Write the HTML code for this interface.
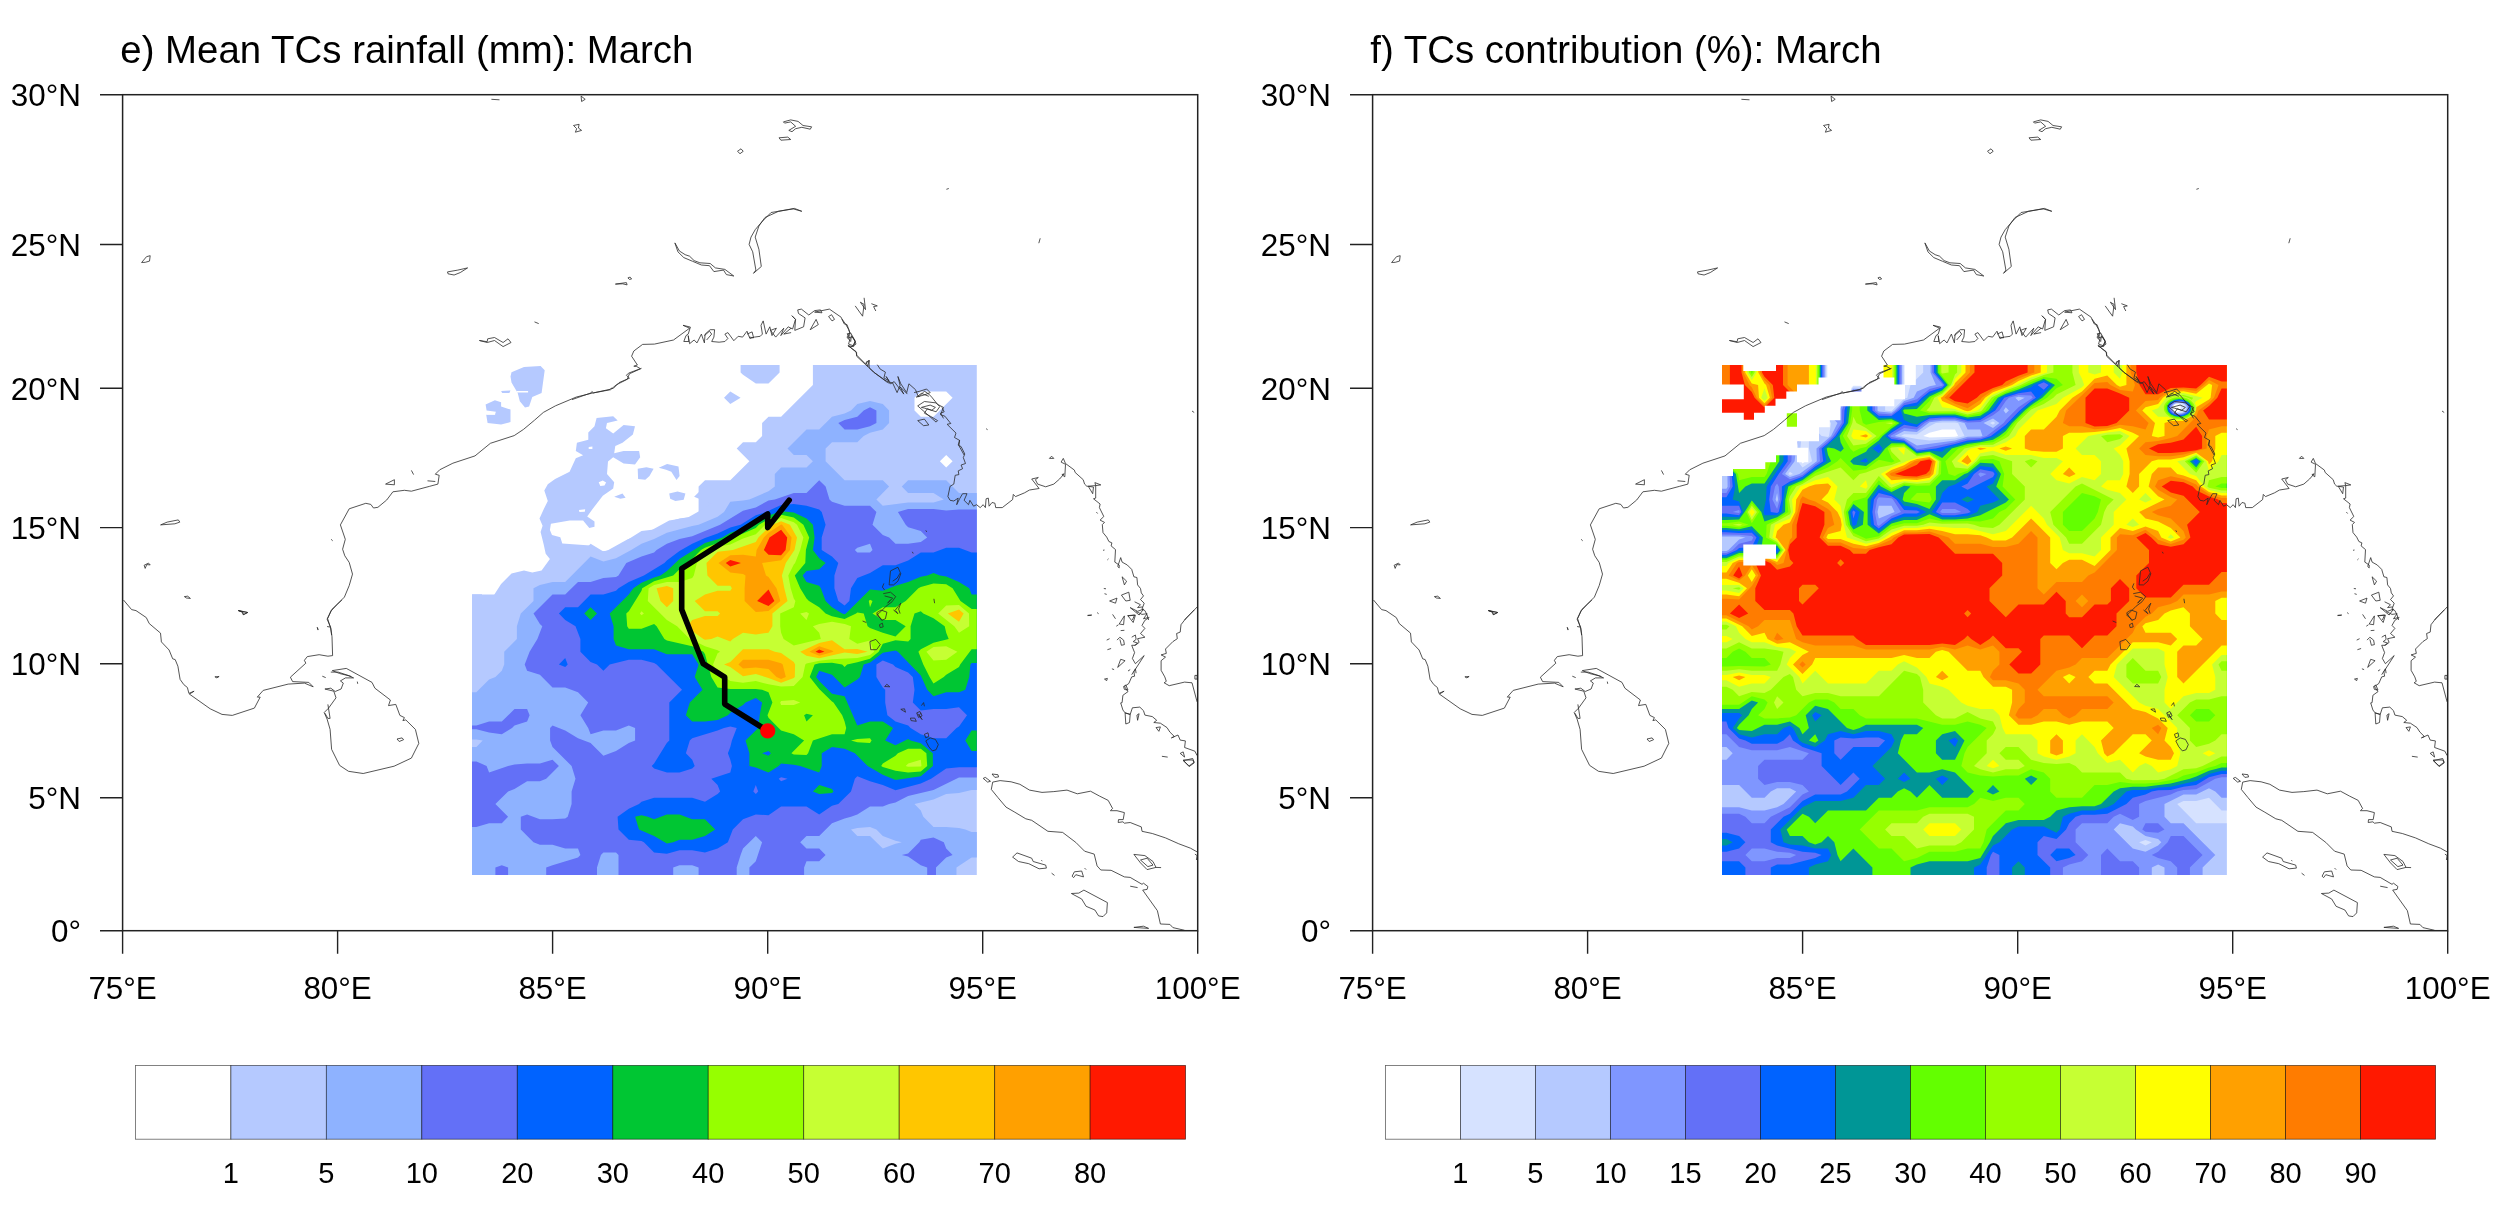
<!DOCTYPE html>
<html lang="en"><head><meta charset="utf-8"><title>TCs rainfall and contribution: March</title>
<style>
html,body{margin:0;padding:0;background:#fff;}
body{width:2500px;height:1224px;overflow:hidden;}
svg{display:block;}
text{font-family:"Liberation Sans",sans-serif;fill:#000;filter:url(#gs);}
.ttl{font-size:38.4px;}
.ax{font-size:31.4px;}
.cb{font-size:29px;}
.coast{fill:none;stroke:#2a2a2a;stroke-width:0.8;stroke-linejoin:round;}
</style></head><body>
<svg width="2500" height="1224" viewBox="0 0 2500 1224">
<rect width="2500" height="1224" fill="#fff"/>
<defs>
<filter id="gs" x="-5%" y="-20%" width="110%" height="140%"><feOffset dx="0" dy="0"/></filter>
<clipPath id="fr"><rect x="122.6" y="94.7" width="1075.1" height="836"/></clipPath>

<g id="coast">
<path class="coast" d="M641.5 368.3L629.4 373.8L627.2 379.3L616.2 384.9L610.6 389.7L591.9 393.2L576.4 397L555.5 405.8L543.4 412.4L534.5 420.2L523.5 429.4L514.2 435.6L490.4 443.3L475 455.9L452.9 463.2L439.7 469.8L435.3 474.2L439.2 475.3L437.9 484.1L429.7 486.3L411.4 491.2L404.4 490.3L392.9 491.8L386.7 500L377.9 507.3L373.5 508L370.8 504.4L365.8 503.3L349.2 508.8L340.4 524.9L345.3 539.3L342.6 549.2L344.8 555.8L349.2 562.4L352.5 574.1L349.2 585.6L344.4 597.1L337.1 604.4L331.1 611L327.6 618.7L330.5 627.5L331.6 635M160.6 524.9L167.2 522.1L178.3 519.9L179.8 522.1L174.9 523.8ZM144.1 565.3L148.5 563.1L150.2 564.9L146.7 564.6L145.2 568.4ZM184.4 596.6L187.7 596.2L190.4 598.4L186.4 598ZM238.5 610.5L247.7 612.5L243.3 614.7L242.2 612.1ZM385.6 484.1L394.4 479.7L394.4 484.8ZM411.4 470.4L413.6 474.6M427.5 480.8L435.3 481.5M331.1 539.3L332.7 540.8M317.2 627.5L318.3 629.7M842 319.1L845.7 324.3L848.6 329.4L850.1 333.8L847.9 338.2L852.3 336.8L854.5 339.7L856 344.1L850.8 347.1L847.9 345.6L856 351.5L856.7 355.1L865.5 364L869.2 360.3L867.7 366.2L873.6 372.1L886.1 380.9L892.7 383.1L897.1 392.6L900.1 385.3L897.9 376.5L900.8 383.8L906.7 392.6L908.9 383.8L915.5 389.7L918.5 397.1L924.4 391.2L928.8 394.1L931.7 397.1L937.6 404.4L943.5 407.4L940.5 414.7L944.9 416.2L950.8 423.5L947.1 424.3L956 433.1L954.5 437.5L959.6 440.4L958.9 445.6L964.1 455M877.3 364.7L880.2 369.1L885.4 372.1L883.9 377.9L889.1 380.9L886.1 376.5L890.5 383.8L894.2 381.6L903.8 394.1L900.1 386.8L907.4 394.1M914.1 392.6L919.9 391.2L926.6 389L930.2 392.6L924.4 394.9L916.3 397.1L921.4 393.4L928.8 396.3M917.7 405.9L924.4 401.5L936.1 402.9L939.8 406.6L936.1 411.8L927.3 408.8L924.4 413.2L930.2 416.2L937.6 420.6L936.1 422.1ZM921.4 407.4L930.2 405.1L935.4 407.4L931.7 410.3L924.4 408.1ZM917.7 420.6L924.4 419.1L928.8 425L923.6 425.7ZM942 407.4L944.2 411.8L940.5 413.2L943.5 418.4M855.2 305.9L862.6 316.2L864.1 304.4L860.4 302.2L865.5 309.6L864.1 297.8M871.4 303.7L877.3 305.9L873.6 306.6L875.8 311M847.1 333.8L850.8 333.1L855.2 341.2L853 345.6L848.6 344.1L850.1 338.2ZM986.1 428.7L987.6 429.7M1192 411L1194.2 412.5M959.6 440L958.2 445.1L961.1 446.6L964.8 454L963.3 457.6L965.5 463.5L961.1 465L962.6 468.7L958.2 470.9L958.9 474.6L955.2 475.3L953.8 484.1L950.1 486.3L947.9 496.6L950.1 500.3L953.8 501L958.2 498.1L956.7 504.7L959.6 498.8L962.6 493.7L967 493.7L964.1 500.3L968.5 504.7L969.9 500.3L973.6 506.2L976.6 504.7L980.2 507.6L983.2 504.7L985.4 507.6L986.1 498.8L988.3 498.1L989.1 506.2L992 502.5L994.9 503.2L995.7 507.6L1002.3 507.6L1012.6 499.6L1013.3 494.4L1015.5 496.6L1024.4 492.9L1029.5 490L1039.1 488.5L1031.7 479L1038.3 477.5L1035.4 479.7L1037.6 484.1L1045.7 486.8L1053.8 484.1L1059.6 479L1064.1 473.8L1061.9 474.6L1064.8 476.8L1065.5 464.3L1061.1 462.1L1063.3 458.4L1065.5 463.5L1074.4 470.1L1075.1 472.4L1083.2 479.7L1084.6 484.1L1086.9 486.3L1095.7 485.6L1094.9 482.6L1100.8 484.9L1095.7 485.6L1095.7 498.1L1093.5 498.8L1100.1 504L1099.4 507.6L1103.8 516.5L1100.1 520.1L1104.5 522.4L1102.3 524.6L1103 532.6L1106.7 537.1L1108.9 541.5L1111.9 542.9L1111.1 545.9L1115.5 549.6L1114.8 562.1L1119.2 565L1119.2 567.9L1117.7 566.5L1120.7 557.6L1122.1 562.1L1127.3 565L1131.7 569.4L1133.9 576.8L1136.9 577.5L1137.6 584.9L1140.5 588.5L1141.3 592.9L1143.5 595.9L1140.5 599.6L1144.2 603.2L1142 609.1L1144.9 610.6L1147.1 615L1148.6 620M1049.4 458.4L1051.6 456.2L1053.8 458.4ZM1088.3 486.3L1093.5 487.1L1092.7 493.7ZM1122.1 576.8L1126.6 581.2L1124.4 584.9ZM1109.6 601L1117 598.1L1115.5 603.2ZM1121.4 595.1L1128.8 592.2L1130.2 600.3L1125.8 601ZM1130.2 607.6L1137.6 611.3L1143.5 609.1L1139.1 615ZM1127.3 615.7L1134.6 615L1132.4 620M1134.6 601.8L1140.5 604.7L1137.6 607.6L1142.7 606.9M1103.8 588.5L1106 588.8M1104.5 593.7L1106.7 594.4M1087.6 615.3L1092 615M1103 550.3L1104.5 550M1096.4 512.1L1097.6 513.5M1107.4 559.9L1108.5 558.8M1184.6 620L1197.9 606.2M890.5 570.9L897.9 567.2L900.8 573.8L897.9 581.2L893.5 584.9L889.1 584.9ZM892.7 581.2L897.1 578.2L900.1 573.1M883.9 583.4L882.4 587.1L884.6 590M883.2 593.7L890.5 592.2L895.7 596.6L892 601.8L886.1 606.2L878.8 613.5L876.6 615L882.4 620M884.6 595.9L892.7 598.1L887.6 603.2L890.5 599.6M894.9 610.6L900.8 603.2L898.6 609.1L900.1 613.5M912.3 551.8L913.2 553.5M925.8 530.4L926.7 531.9M933.9 598.8L934.6 603.2M1149.4 617.4L1144.9 620.3L1142 625.4L1144.9 628.4L1140.5 633.5L1144.9 637.2L1137.6 638.7L1139.1 642.4L1135.4 645.3L1131.7 645.3L1134.6 652.6L1132.4 658.5L1135.4 663.7L1144.2 655.6L1136.1 668.1L1133.9 671.8L1134.6 676.2L1131.7 676.9L1128.8 683.5L1124.4 686.5L1128 691.6L1122.9 695.3L1122.1 702.6L1120.7 702.9L1122.9 710L1125.1 712.9L1130.2 714.4L1132.4 707.8L1139.8 707.1L1143.5 710.7L1144.9 715.1L1152.3 716.6L1156.7 720.3L1153.8 722.5L1160.4 723.2L1167 727.6L1169.9 732.1L1174.4 736.5L1171.4 737.9L1178 735L1180.2 740.1L1185.4 740.9L1184.6 747.5L1194.9 751.2L1197.1 755.6M1125.1 712.9L1130.2 714.4L1129.5 722.5L1125.8 724ZM1136.9 715.1L1139.1 713.7L1137.6 720.3ZM1156 727.6L1160.4 726.9L1158.9 731.3ZM1180.2 753.4L1183.2 751.9L1184.6 757.1ZM1183.2 760.7L1192.7 758.5L1194.2 762.2L1189.1 765.9ZM1161.9 756.3L1167.7 757.1M1194.2 610L1186.1 618.1L1181 624.7L1180.2 632.1L1176.6 633.5L1177.3 638.7L1172.9 641.6L1165.5 649L1166.3 653.4L1161.1 654.9L1165.5 657.1L1161.1 660.7L1161.1 670.3L1164.8 676.9L1166.3 681.3L1164.1 682.8L1169.2 685.7L1184.6 682.1L1192 682.8L1197.1 701.9M1194.9 675.4L1197.1 675.4L1197.1 679.1L1194.9 679.1ZM1119.2 624L1124.4 615.9L1123.6 624.7ZM1128 615.9L1135.4 615.1L1133.2 622.5ZM1117 640.1L1119.9 637.2L1123.6 640.1L1124.4 644.6L1121.4 645.3L1119.9 639.4M1117.7 667.4L1120.7 659.3L1125.1 660.7ZM1112.6 614.4L1115.5 618.8M1104.5 679.1L1107.4 678.4L1106.7 680.6ZM1131.7 637.2L1135.4 635L1136.1 639.4L1133.2 641.6L1137.6 643.1L1134.6 645.3M1123.6 686.5L1125.8 685L1128 690.1L1124.4 689.4ZM1131.7 674.7L1135.4 668.8L1136.1 673.2M1106.7 640.1L1109.6 638.7M1107.4 649.7L1111.1 648.5M1111.9 668.8L1114.1 669.6M1128 671L1130.2 669.6M1116.3 626.2L1118.5 624.7M1120.7 630.6L1124.4 630.3M1136.1 611.5L1142 614.4L1147.1 613.7L1143.5 618.8L1148.6 617.4M1087.6 615.6L1091.3 615.3M1097.1 612.6L1098.6 613.7M869.9 641.6L875.8 639.4L880.2 644.6L876.6 649.7L870.7 649.7ZM884.6 686.5L886.9 684.3L889.8 686.8ZM900.8 709.3L904.5 708.8L905.5 712.2ZM910.4 718.1L914.8 718.1L916.3 721.3L911.1 720.6ZM916.7 712.9L919.9 711.5L922.1 715.9L918.5 717.4ZM917.7 713.7L922.1 719.6L919.2 715.1L921.4 712.9M921.4 705.6L923.6 702.6L924.4 706.3M924.4 734.3L928 732.8L928.8 736.5L925.8 737.9ZM925.8 740.9L930.2 737.9L935.4 739.4L938.3 744.6L936.1 749.7L932.4 750.9L928.8 746.8ZM876.6 612.9L881 610L886.9 612.2L885.4 618.8L881.7 620.3ZM879.5 624.7L882.4 623.2L883.2 626.9L880.2 627.6ZM862.6 621L866.3 622.5M893.5 610L897.9 613.7L895.7 610.7M983.2 778.4L985.4 777.4L990.5 781.3L987.6 782.1ZM992 774L997.9 774.7L998.6 776.9L994.9 777.4ZM1197.1 851.9L1190.5 848.2L1178.8 843.8L1165.5 837.9L1152.3 833.5L1142 831.3L1141.3 826.9L1130.2 822.5L1124.4 823.2L1122.9 821.8L1118.2 822.5L1118.5 819.6L1123.2 819.6L1124.4 812.6L1117 810.7L1110.4 810.7L1112.6 808.5L1108.2 800.4L1099.4 796L1090.5 791.2L1077.3 793.8L1067 790.1L1053.8 791.6L1042 792.4L1029.5 790.1L1019.9 784.3L1011.1 781.8L1000.1 780.6L992.7 782.1L991.3 789.4L997.9 797.5L1006 807.1L1014.8 812.2L1025.8 818.8L1031.7 820.3L1047.9 831.3L1062.6 832.4L1075.8 842.4L1084.6 851.2L1094.2 854.1L1097.1 865.9L1100.8 870L1111.1 870.3L1124.4 876.9L1130.2 877.4L1142 884.3L1143.5 883.2L1147.9 886.5L1147.1 889.4L1142.7 890.1L1157.4 910.7L1160.4 924L1169.9 924.4L1172.9 927.6L1184.6 930.3M1012.6 857.1L1017 852.9L1031.7 858.2L1033.2 861.5L1045.7 865.1L1046.4 868.1L1039.1 868.8L1028.8 863.7L1018.5 861.5ZM1072.1 876.2L1074.4 871.8L1081.7 871L1083.5 876.9L1075.8 874.7L1073.6 877.6ZM1071.4 893.5L1078.8 893.1L1083.9 890.1L1107.4 902.6L1106.7 912.9L1103 916.6L1098.6 915.9L1094.9 910L1086.1 906.3L1081.7 899ZM1133.9 927.4L1143.5 926.2L1148.6 928.4ZM1133.9 854.4L1144.9 855.6L1153 861.5L1156 867.4L1147.1 869.6L1140.5 862.9ZM1140.5 860L1147.1 858.2L1153 865.1L1147.9 866.6ZM1156 867.4L1161.1 867.6M1130.2 886.2L1137.6 887.6M1051.6 873.2L1054.5 875.4M1084.6 868.1L1086.1 869.6M1041.3 860.4L1042.3 860.9M1183.2 760L1192.7 760L1194.2 762.9L1189.1 766.6ZM1194.9 854.1L1197.1 855.6L1196.4 860M123.5 600L131.6 609.6L136 610.6L146.3 617.6L149.2 623.5L160.5 633.1L161.4 641.9L169.1 650L172.7 658.8L175.2 659.6L177.9 666.2L180.1 679.4L183.8 684.6L187.4 687.5L188.9 693.4L194.1 691.2L189.4 694.1L210.2 708.8L222 714.4L232.3 715.4L254.4 708.1L260.2 697.1L257.3 697.1L263.2 690.4L288.2 684.1L304.4 683.1L313.2 686.8L308.8 682.4L292.6 681.6L290.4 677.2L305.8 663.2L304.4 660.3L307.3 656.6L319.1 654.7L327.9 656.2L332.6 655.6L332 636.8L330.8 627.9L327.1 619.1L331.6 609.6L341.9 600M332.3 670.6L346.3 668.4L372 682.4L374.9 688.2L390.4 700L388.5 705.6L395.8 704.4L399.9 715.4L404.4 717.6L402.9 720.6L405.8 719.9L415.4 729.4L418.8 743.4L411.4 758.1L394.1 766.2L363.2 773.5L348.5 771.3L339.6 765.4L331.6 749.3L330.1 729.4L327.1 719.1L324.2 712.5L328.6 708.1L336 697.8L333.8 691.2L324.9 689L330.8 688.2L335.2 691.5L341.1 689L343.3 683.1L340.4 680.9L345.5 677.9L353.6 677.9L348.5 675.7L339.6 673.5ZM330.8 672.1L338.2 672.1L351.4 676.5M324.9 713.2L327.9 718.4L330.1 718.4L327.9 704.4M397 739L402.1 737.9L403.6 739.7L399.2 741.5ZM238.2 610.6L247.7 612.5L243.3 614.7L242.9 612.1ZM214.9 676.8L219.1 676.5L216.9 677.9ZM317.3 627.2L317.9 630.1M322.3 676.2L325.7 677.6M327.1 626.5L330.5 627.2M357.3 681.6L357.7 683.8M572 399.6L591.1 392.9L591.9 391.5L593.3 392.9L610.2 389.3L611 388.2L613.2 388.5L619.1 382.6L629.4 378.2L626.4 375.3L628.6 373.1L640.4 368.7L636.7 366.5L633.8 366.2L637.4 365L631.6 356.2L633.8 351L642.6 344.4L654.4 344.1L673.5 340L689.6 328.2L683 325.3L690.4 327.1L688.2 334.1L686 335.6L683.8 341.5L688.9 341.5L688.2 335.6L689.6 343.7L694.1 340L697 342.9L701.4 334.1L704.4 342.9L705.1 334.1L710.2 329.7L714.6 329.7L713.9 337.1L711.7 341.5L719.1 342.2L724.9 341.5L727.9 338.5L724.9 334.1L727.9 332.6L733.8 340.7L738.2 336.3L742.6 337.1L747 331.2L749.9 338.5L754.4 337.1L760.2 336.3L762.4 334.1L761 325.3L763.2 320.9L766.1 334.1L769.8 326.8L772 335.6L776.4 328.2L770.5 330.4L775.7 337.1L783.8 328.2L780.8 335.6L788.2 326.8L792.6 329L795.5 319.4L791.9 315.7L795.5 319.4L794.8 330.4L803.6 326.8L805.1 317.9L798.5 313.5L797.7 309.9L801.4 309.1L808.8 315L814.6 310.6L820.5 309.9L822 312.8L814.6 312.1L829.4 309.1L841.1 317.2L844.1 323.8L847 324.6L849.9 332.6L847 337.1L850.7 341.5L851.4 335.6L855.1 341.5L853.6 346.6L848.5 345.9L856.6 352.5L856.6 356.2L867.6 366.5L866.1 362.1L869.1 360.6L869.1 367.9L874.9 373.1L886.7 381.9L889.6 383.4M810.2 329.7L816.1 319.4L818.3 324.6ZM828.6 316.5L831.6 314.7L834.5 319.4L832 320.9ZM791.1 328.2L783.8 334.1L791.1 332.6M704.4 335.6L709.5 331.2L711.7 334.1L706.6 340M747 334.1L752.1 331.9L753.6 337.8L749.2 337.1M674.9 242.9L679.4 251L685.2 254.7L689.6 256.2L694.1 260.6L699.9 262.8L710.2 263.5L715.4 267.9L724.9 269.4L733.8 276L726.4 274.6L723.5 270.1L713.9 271.6L709.5 265.7L701.4 265L692.6 261.3L683.8 257.6L677.9 251.8ZM615.4 284.1L626.4 282.6L627.1 284.9L622.7 283.8ZM627.9 277.9L630.1 277.1L631.6 279L629.4 279.4ZM753.5 273.3L761.3 266.5L758.9 249.3L755.2 237.1L758.9 226L765 217.5L778.5 211.3L794.4 208.4L801.8 211.3L793.2 208.9L771.1 212.5L762.5 221.1L755.2 229.7L751 237.1L749.1 244.4L752.7 251.8L755.9 270.1ZM783.4 121.9L790.7 119.9L798.1 121.4L803 125.5L811.6 126.8L810.3 129.2L801.8 127.3L795.6 128.7L792 131.7L788.8 130.4L795.6 126.3L790.7 121.9L784.6 123.1ZM779 137.8L787.8 137.1L790.7 139.5L780.9 140.2ZM737.5 151.3L741 148.8L743.2 151.3L740 153.7ZM946.4 189.3L948.8 188.5M1038.8 243.2L1040.2 238.3M141.6 262.5L146.5 256.7L150.2 255.7L149.5 261.1L145.3 262.3ZM447.5 271.9L457.8 270.1L467.6 267.9L460.2 272.6L454.1 275L448 273.8ZM479.4 340.5L487.2 341.7L487.7 338.8L494.5 337.5L503.1 342.5L508 338.8L511 342.5L503.1 346.6L494.5 340.5L487.2 342.5ZM534.5 321.9L538.7 323.6M573.5 125.5L579.1 124.3L578.4 128L581.6 130.4L575.4 132.2L576.7 128.7ZM581.1 96.1L585.2 99.3L581.6 101.5ZM491.4 99.3L499.5 99.8"/>
</g>
</defs>
<g id="panel-e">
<text x="120.3" y="62.6" class="ttl">e) Mean TCs rainfall (mm): March</text>
<g clip-path="url(#fr)"><clipPath id="dl"><rect x="472" y="365.1" width="504.8" height="509.8"/></clipPath>
<g clip-path="url(#dl)" fill-rule="evenodd" shape-rendering="geometricPrecision">
<path fill="#b5c9ff" d="M740.6 346.9L779.6 346.9L779.6 372.4L768.5 383.5L755.8 383.5L743 374.8L740.6 372.4ZM812.9 346.9L997 346.9L997 893L450.9 893L450.9 594.6L501.8 594.6L514.5 581.9L527.1 581.9L539.9 578.7L546.2 575.5L552.5 569.2L565.2 569.2L590.6 543.8L603.4 551.4L609.7 550.1L616 547.7L628.8 539L641.5 531.1L654.1 529.4L664.4 524.8L666.8 522.3L679.5 518.4L692.2 516.7L698.6 512L698.6 486.6L705 480.3L730.3 480.3L749.4 461.2L736.7 448.6L743 442.2L755.8 442.2L762.1 435.9L762.1 423.1L768.5 416.8L781.1 416.8L812.9 385.1ZM920.8 391.4L914.5 397.8L914.5 410.4L920.8 416.8L933.5 416.8L952.6 397.8L946.2 391.4ZM946.2 454.9L939.9 461.2L946.2 467.6L952.6 461.2ZM724 397.8L730.3 391.4L740.6 397.8L730.3 404.1Z"/>
<path fill="#b5c9ff" fill-rule="nonzero" d="M511.5 372.2L524 367L540.6 366L544.7 370.2L541.6 393L532.3 397.1L529.1 406.5L525 407.5L519.8 401.3L517.7 393L511.5 382.6L510.5 376.4ZM501.1 390.9L510.5 390.5L509.4 393L502.2 393ZM485.6 404.4L494.9 400.2L501.1 402.3L501.1 406.5L510.5 409.6L510.5 422L501.1 424.5L487.6 423.1L486.2 414.8L494.9 414.8L495.9 411.7L486.6 410.6ZM472.1 620L472.1 594.3L482 594.3L482 599.5L484.9 599.5L485.6 595.3L493.9 595.3L501.1 583.9L511.5 573.5L524 570.4L532.3 572.5L541.6 570.4L549.9 559L545.7 553.8L543.7 544.5L540.6 532L542.6 525.8L539.5 518.5L543.7 509.2L547.8 500.9L544.3 490.5L547.8 484.3L555.1 479.1L569.6 471.8L575.8 458.3L583.1 455.2L575.8 451.1L576.9 442.8L588.3 439.7L588.3 432.4L594.5 426.2L596.6 417.9L613.2 416.2L617.7 420.4L607 423.1L605.9 428.3L613.2 433.4L623.6 425.1L635 426.2L632.9 434.5L622.5 442.8L615.3 445.9L614.2 453.2L623.6 451.1L639.1 451.1L640.2 457.3L635 464.6L623.6 463.5L613.2 457.3L608 461.5L607 473.9L614.2 482.2L613.2 488.4L602.8 495.7L592.4 509.2L587.2 516.4L594.5 521.6L594.5 526.8L589.3 527.9L583.1 520.6L569.6 520.6L550.9 523.7L549.9 529.9L552 535.1L560.3 537.2L562.3 543.4L590.4 545.5L596.6 551.7L607 550.7L627.7 539.3L646.4 533L669.2 520.6L687.9 517.5L711.8 504L694.1 496.7L704.5 486.4L724 483.2L724 529.9L708.6 535.1L687.9 542.4L669.2 545.5L656.8 553.8L642.2 562.1L627.7 566.2L615.3 573.5L598.7 572.5L586.2 576.6L569.6 592.2L561.3 595.3L553 600.5L538.5 603.6L529.1 614L526 620ZM637.7 468.7L646.4 467.3L653.6 468.7L649.5 476L645.3 479.7L638.1 479.1ZM658.8 467.7L667.1 463.9L678.5 466.6L679.6 476L676.5 480.1L671.3 471.8L666.1 469.8ZM669.2 493.6L677.5 491.5L685.4 493.6L683.7 499.8L675.4 500.9L670.2 498.8ZM614.2 496.7L622.5 493.6L625.6 497.8L620.4 498.8Z"/>
<path fill="#fff" fill-rule="nonzero" d="M598.7 482.2L602.8 480.5L606.1 482.6L604.5 485.5L600.3 485.9ZM578.9 510L585.2 509.2L584.8 511.7L579.4 512.1ZM588.7 446.9L592.4 446.5L592.4 449L588.7 449ZM516.7 390.9L528.1 390.9L528.1 392.6L516.7 392.6ZM486.6 411.7L494.5 412.1L495.3 414.6L486.6 414.4Z"/>
<path fill="#8eb2ff" d="M851 410.4L857.3 404.1L870 400.9L882.8 404.1L889.1 410.4L889.1 423.1L882.8 429.5L870 432.7L863.7 435.9L857.3 442.2L832 442.2L825.6 448.6L825.6 461.2L844.6 480.3L882.8 480.3L889.1 486.6L876.4 499.4L882.8 505.7L908.1 502.5L933.5 502.5L943.8 499.4L933.5 493L908.1 493L901.8 486.6L908.1 480.3L946.2 480.3L959 493L997 493L997 789.9L971.6 789.9L959 793L946.2 793.9L933.5 799.5L914.5 804.1L920.8 810.5L923.3 816.8L933.5 827.1L946.2 827.1L959 828L965.3 829.5L971.6 832L997 832L997 857.4L971.6 857.4L956.5 867.6L956.5 893L450.9 893L450.9 747L476.4 747L482.7 740.6L476.4 739.4L450.9 739.4L450.9 692.3L476.3 692.3L489.1 679.6L495.4 677.1L501.8 670.8L504.2 664.5L504.2 651.8L516.9 639L516.9 626.3L520.8 613.6L533.5 601L533.5 588.2L539.9 585.1L552.5 581.9L565.2 581.9L590.6 556.5L603.4 561.6L616 558.2L631.2 550.1L641.5 543.8L654.1 539L666.9 532.8L692.2 526L698.6 524.8L717.6 516.7L724 512L730.3 501.8L743.1 500.6L749.4 499.4L768.5 491.3L774.8 486.6L774.8 473.9L781.1 467.6L806.5 467.6L812.9 461.2L806.5 454.9L793.8 454.9L787.5 448.6L806.5 429.5L819.2 429.5L832 416.8L844.6 413.6ZM857.3 828L851 829.5L857.3 835.9L870 835.9L882.8 848.6L895.5 843.8L901.8 842.2L895.5 840.7L882.8 835.9L876.4 829.5L870 827.1Z"/>
<path fill="#6370f7" d="M863.7 410.4L870 407.3L876.4 410.4L876.4 423.1L870 426.3L857.3 429.5L844.6 429.5L838.3 423.1L844.6 420L857.3 416.8ZM819.2 480.3L825.6 486.6L829.5 499.4L832 501.8L844.6 505.7L870 505.7L876.4 512L872.5 524.8L882.8 535L889.1 537.5L895.5 543.8L908.1 543.8L920.8 542.1L927.2 537.5L920.8 531.1L908.2 527.2L905.7 524.8L897.9 512L908.1 508.9L933.5 508.9L946.2 510.5L959 509.6L997 509.6L997 777.5L959 777.5L933.5 789.9L908.1 796.1L895.5 802.6L889.1 804.1L882.8 806.6L870 806.6L857.3 814.4L851 816.8L844.6 818.4L832 823.2L819.2 835.9L806.5 835.9L800.2 842.2L806.5 848.6L819.2 848.6L825.6 855L819.2 861.3L806.5 861.3L804.1 867.6L804.1 893L749.4 893L749.4 867.6L755.8 861.3L762.1 842.2L755.8 835.9L743 848.6L740.6 855L736.7 867.6L736.7 893L698.6 893L698.6 867.6L692.2 865.2L679.5 865.2L673.2 867.6L673.2 893L618.5 893L618.5 855L616 852.5L603.4 852.5L600.9 855L597 867.6L597 893L546.2 893L546.2 867.6L552.5 865.2L578 857.4L580.4 855L578 848.6L565.2 848.6L552.5 844.7L539.9 844.7L533.5 842.2L520.8 829.5L520.8 816.8L527.1 814.4L539.9 819.3L552.5 819.3L565.2 818.4L567.7 816.8L571.6 804.1L571.6 791.5L575.5 778.8L571.6 766L552.5 747L550.1 740.6L550.1 728L552.5 725.5L565.2 730.4L578 738.2L590.6 743.1L603.4 755.8L616 750.9L628.8 743.1L635.1 740.6L635.1 728L628.8 725.5L616 730.4L603.4 730.4L590.6 734.3L588.2 728L580.4 715.2L588.2 702.5L578 692.3L565.2 687.4L552.5 687.4L539.9 674.7L527.1 670.8L524.7 664.5L529.6 651.8L537.4 639L542.3 626.3L539.9 623.9L533.5 613.6L552.5 594.6L565.2 594.6L578 581.9L590.6 581.9L603.4 578L616 577.1L618.5 575.5L626.3 562.9L641.5 556.5L654.1 552.6L656.6 550.1L666.9 543.8L679.5 539L692.2 536.2L720.1 524.8L743 510.8L755.8 507.4L768.5 500.6L774.8 499.4L793.8 493L806.5 493ZM857.3 547.7L854.9 550.1L857.3 552.6L870 552.6L872.5 550.1L870 543.8ZM514.5 708.9L527.1 708.9L529.6 715.2L527.1 721.6L514.5 725.5L512 728L501.8 734.3L489.1 732.6L476.4 729.2L451 729.2L450.9 725.5L476.4 725.5L489.1 721.6L501.8 721.6ZM450.9 761.4L476.4 761.4L486.6 766L489.1 772.4L508.1 766L514.5 764.5L527.1 763.6L539.9 763.6L552.5 759.7L558.9 766L546.2 778.8L539.9 781.2L527.1 781.2L514.5 789L508.1 791.5L495.4 804.1L508.1 816.8L501.8 823.2L489.1 823.2L476.3 827.1L450.9 827.1ZM919.3 842.2L920.8 839.8L933.5 837.6L943.8 842.2L946.2 848.6L952.6 855L946.2 857.4L936 867.6L936 893L927.2 893L927.2 867.6L920.8 865.2L908.1 856.5L901.8 855L908.1 853.4ZM495.4 867.6L501.8 865.2L508.1 867.6L508.1 893L495.4 893Z"/>
<path fill="#0063ff" d="M766 512L781.1 504.9L793.8 504L806.5 505.7L819.2 509.6L821.7 512L825.6 524.8L821.7 537.5L821.7 550.1L832 556.5L838.3 562.9L834.4 575.5L834.4 588.2L838.3 601L844.6 605.6L849.3 601L851 588.2L857.3 578L870 573.1L882.8 565.3L895.5 565.3L908.2 560.4L920.8 552.6L933.5 552.6L946.2 547.7L959 547.7L971.6 552.6L997 552.6L997 767.3L959 767.3L946.2 768.5L931.1 778.8L920.8 783.4L895.5 790.2L882.8 785.1L870 781.2L857.3 776.3L854.9 778.8L851 791.5L838.3 804.1L832 805.7L819.2 814.4L806.5 806.6L781.1 806.6L768.5 815.3L755.8 814.4L743 819.3L732.8 829.5L727.9 842.2L717.6 848.6L705 852.5L692.2 850.3L679.5 850.3L666.9 853.7L654.1 852.5L643.9 842.2L641.5 841L628.8 839.8L618.5 829.5L617.6 816.8L628.8 808.8L639 804.1L641.5 801.7L654.1 797.8L692.2 797.8L705 801.7L717.6 793.9L720.1 791.5L717.6 785.1L711.3 778.8L730.3 772.4L731.9 766L730.3 759.7L727.9 753.3L730.3 747L731.9 740.6L736.7 728L730.3 726.4L724 728L717.6 730.4L692.2 738.2L689.8 740.6L685.9 753.3L692.2 759.7L694.7 766L692.2 768.5L679.5 772.4L666.9 772.4L654.1 768.5L651.7 766L654.1 763.6L666.8 743.1L669.3 740.6L669.3 702.5L682 689.8L656.6 664.5L654.1 662.9L641.5 659.8L628.8 659.8L609.7 664.5L603.4 670.8L597 664.5L590.6 662L580.4 651.8L580.4 639L575.5 626.3L565.2 620L558.9 613.6L565.2 607.3L578 607.3L590.6 594.6L603.4 594.6L616 590.7L618.5 588.2L628.8 581.9L643.9 575.5L664.4 562.9L666.8 560.4L679.5 551.1L692.2 543.8L705 538L717.6 533.5L730.3 527.4L740.6 524.8L755.8 515.2ZM781.1 777.2L778.7 778.8L781.1 781.2L787.5 778.8ZM882.8 660.5L876.4 664.5L876.4 677.1L882.8 687.4L885.2 689.8L885.2 702.5L887.4 715.2L895.5 721.6L908.2 725.5L910.6 728L920.8 734.3L933.5 738.2L946.2 738.2L956.5 728L959 726.4L967 715.2L959 707.2L946.2 708.9L933.5 708.9L920.8 710.6L912.8 702.5L914.5 689.8L912.8 677.1L908.1 672.5L895.5 666.9L893 664.5ZM755.8 785.1L753.3 791.5L755.8 793.9L758.2 791.5ZM558.9 664.5L565.2 658.1L567.7 664.5L565.2 666.9Z"/>
<path fill="#00c633" d="M781.1 511.3L793.8 512.6L806.5 518.4L812.9 524.8L814.6 537.5L812.9 550.1L819.2 558.2L825.6 562.9L819.2 569.2L806.5 570.9L802.6 575.5L806.5 581.9L819.2 585.8L820.8 588.2L825.6 601L832 607.3L842.2 613.6L844.6 614.2L845.9 613.6L870 589.5L882.8 590.7L895.5 585.8L908.1 581.9L920.8 576.8L927.2 575.5L933.5 573.1L939.9 575.5L946.2 576.5L959 581.9L969.2 588.2L971.6 594.6L997 594.6L997 662.9L971.6 662.9L970.4 664.5L969.2 677.1L965.3 689.8L959 692.3L946.2 692.3L933.5 696.2L927.2 689.8L920.8 675.6L897.9 651.8L895.5 650.5L882.8 652.7L870.1 662.6L863.7 664.5L859.8 677.2L857.3 679.6L844.6 687.4L832 674.7L819.2 670.8L816.1 677.1L819.2 681.1L832 693.8L844.6 696.2L857.3 725.5L870 721.6L882.8 721.6L893 728L885.2 740.6L895.5 745.3L908.1 739.1L910.6 740.6L920.8 743.3L932.8 753.3L932.9 766L920.8 776.3L895.5 780L882.8 774.8L867.6 766L854.9 753.3L844.6 748.7L832 747L821.7 753.3L821.7 766L819.2 772.4L800.2 766L793.8 764.8L781.1 763.6L778.7 766L768.5 772.4L755.8 767.6L749.4 766L749.4 753.3L745.5 740.6L758.2 728L759.7 715.2L762.1 702.5L755.8 697.9L745.5 702.5L743 705L730.3 712.8L727.9 715.2L717.6 719.9L705 721.6L692.2 721.6L685.9 715.2L689.8 702.5L702.5 689.8L694.7 677.1L698.6 664.5L692.2 654.2L666.8 654.2L654.1 649.3L628.8 649.3L616 645.4L613.6 639L613.6 626.3L609.7 613.6L628.8 594.6L633.4 588.2L641.5 582.7L654.1 577.4L660.5 575.5L666.9 570.9L679.5 558.9L705 542.9L717.6 539.3L722.3 537.5L730.3 532.8L743 528.8L751.1 524.8L755.8 521.6L768.5 515.4ZM768.5 750.9L762.1 753.3L768.5 755.8L770.9 753.3ZM584.3 613.6L590.6 607.3L597 613.6L590.6 620ZM965.3 740.6L971.6 730.4L997 730.4L997 750.9L971.6 750.9ZM812.9 791.5L819.2 785.1L832 789L833.5 791.5L832 793L819.2 793.9ZM635.1 816.8L641.5 815.3L647.8 816.8L654.1 819.3L666.8 814.4L679.5 814.4L692.2 819.3L705 819.3L715.2 829.5L705 835.9L692.2 839.8L679.5 839.8L673.2 842.2L666.9 843.5L654.1 835.9L639 829.5Z"/>
<path fill="#96ff00" d="M758.9 524.8L768.5 519.1L781.2 514.8L793.8 517.5L803.4 524.8L809.2 537.5L805.9 550.1L805.3 562.9L794.8 575.5L800.2 588.2L806.5 598.5L809 601L819.2 607.3L825.6 613.6L831.9 616.3L844.6 619.1L856.1 613.6L857.3 612.4L863.7 613.6L867.6 626.3L870 627.9L882.8 632.7L895.5 636.6L905.7 626.3L895.5 620L882.8 620L872.5 613.6L882.8 607.3L895.5 607.3L905.7 601L918.4 588.2L920.8 587L933.5 583.6L946.2 584.3L952.6 588.2L960.5 601L971.7 609L997 609L997 649.3L971.6 649.3L960.2 664.5L959 666.9L946.2 674.7L943.8 677.1L933.5 683.5L929.6 677.1L923.3 664.5L918.4 651.8L920.8 649.3L933.5 642.8L948.7 639L946.2 632.7L944.7 626.3L933.5 618.3L923.3 613.6L920.8 611.2L914.5 613.6L910.6 626.3L910.6 639L908.2 641.5L895.5 640.3L882.8 643.7L878.7 651.8L870 658.8L857.3 662.3L847.1 664.5L844.6 666.9L842.2 664.5L832 662.7L819.2 663.2L814.6 664.5L809.7 677.1L819.2 688.9L832 701.6L833.5 702.5L842.2 715.2L844.6 721.6L846.2 728L844.6 734.3L832 734.3L812.9 740.6L808.1 753.3L806.5 754.9L793.8 754.6L791.4 753.3L804.1 740.6L793.8 734.3L781.1 730.4L768.5 717.7L767.5 715.2L772.4 702.5L768.5 692.3L762.1 689.8L755.8 688.9L730.3 688.9L717.6 687.4L711.3 677.1L705 654.2L703.4 651.8L692.2 646.2L666.9 640.6L664.4 639L656.6 626.3L654.1 623.9L641.5 628.8L628.8 628.8L627.2 626.3L626.3 613.6L628.8 611.2L641.5 590.7L642.2 588.2L654.1 581.2L673.2 575.5L685.9 562.9L692.2 558.9L701 550.1L705 547.7L743 533.4L755.8 527.9ZM806.5 713.7L804.1 715.2L806.5 721.6L812.9 715.2ZM868.8 601L870 599.7L872.5 601L870 607.3ZM851 740.6L857.3 739.1L870 738.2L871.6 740.6L870 743.1L857.3 742.2ZM897.9 753.3L908.1 748.7L920.8 748.7L926.4 753.3L927.2 766L920.8 771.5L908.1 772.4L895.5 770.7L882.8 767L881.2 766L882.8 763.6L895.5 755.8Z"/>
<path fill="#c6ff33" d="M765.3 524.8L768.5 522.9L781.1 518L793.8 522.3L797 524.8L803.4 537.5L800.2 550.1L795.1 562.9L793.8 564.4L788.3 575.5L790.7 588.2L793.8 598.5L795.4 601L793.8 607.3L780.2 613.6L780.2 626.3L781.1 632.7L783.6 639L793.8 645.4L820.8 639L819.2 632.7L812.9 626.3L819.2 623.9L832 621.7L844.7 623.9L851 626.3L849.3 639L857.3 643.7L870 640.6L874.1 651.8L870 655.1L857.3 658.1L832 659.2L819.2 660.7L806.5 663.5L805.3 664.5L802.6 677.1L793.8 685.9L781.1 686.5L768.5 684.3L755.8 681.1L743 682.7L730.3 681.1L717.6 672.5L713 664.5L717.6 653.3L720.1 651.8L717.6 650.2L705 646.2L692.2 639.8L689.8 639L677.1 626.3L666.9 620L647.8 601L648.6 588.2L654.1 584.9L666.9 581.9L679.5 581.9L692.2 578L693.8 575.5L696.9 562.9L709.6 550.1L717.6 546.8L730.3 544.6L743 538.4L755.8 534.3ZM639.9 613.6L641.5 611.2L643.9 613.6L641.5 615.2ZM800.2 613.6L806.5 612.1L809 613.6L806.5 620ZM938.2 613.6L946.2 605.6L959 605L969 613.6L969.2 626.3L959 632.7L954.3 626.3ZM926.4 651.8L933.5 647L946.2 646.2L957.4 651.8L946.2 659.8L933.5 660.5ZM780.2 702.5L781.1 701L793.8 700.1L800.2 702.5L793.8 705L781.1 705ZM905.7 766L908.2 763.6L920.8 759.7L921.5 766L920.8 766.6L908.1 766.7Z"/>
<path fill="#ffc600" d="M772.4 524.8L781.1 521.2L789.9 524.8L797 537.5L794.5 550.1L785.8 562.9L781.9 575.5L784.3 588.2L787.5 601L772.4 613.6L772.4 626.3L768.5 632.7L755.8 634.4L743 632.7L732.8 639L730.3 641.5L717.6 636.6L711.3 639L705 639.8L703.4 639L692.2 631L687.6 626.3L692.2 620L705 616.1L717.6 616.1L720.1 613.6L717.6 611.2L705 611.2L694.7 601L705 594.6L717.6 590.7L730.3 590.7L731.9 588.2L730.3 585.8L717.6 585.8L707.4 575.5L706.5 562.9L717.7 551.7L732.8 550.1L755.8 542.1L758.4 537.5L768.5 527.4ZM656.6 588.2L666.9 586.1L673.2 588.2L673.2 601L666.9 607.3L660.5 601ZM947.8 613.6L959 609.6L963.6 613.6L959 621.7ZM743 649.3L768.5 649.3L774.8 651.8L781.1 653L793.8 662L795.1 664.5L794.8 677.1L793.8 678.1L781.1 682.8L768.5 677.9L755.8 674L743 676.2L730.3 666.9L724 664.5L730.3 662ZM800.2 651.8L819.2 642.9L832 640.3L844.6 649.3L857.3 649.1L867.6 651.8L857.3 653.9L844.6 652.5L819.2 658.2L806.5 655.7Z"/>
<path fill="#ffa000" d="M781.1 524.4L782.1 524.8L791.6 537.5L790 550.1L781.2 560.3L762.1 562.9L766 575.5L768.5 577.1L776.5 588.2L780.4 601L768.5 611.1L755.8 612.1L744.6 601L744.6 588.2L745.5 575.5L743 574L730.3 572.6L718.5 562.9L730.3 555.3L743 554.8L755.8 556.5L756.6 550.1L763.8 537.5L768.5 532.8ZM809.5 651.8L819.2 646.2L832 650.5L833.5 651.8L819.2 655.8ZM738.4 664.5L743 659.8L768.5 659.8L781.1 663.2L782.7 664.5L785.8 677.1L781.1 679L776.5 677.1L768.5 669.1L755.8 667.6L743 668.4Z"/>
<path fill="#ff1900" d="M769.5 537.5L781.1 529.7L787.2 537.5L785.6 550.1L781.1 555.2L768.5 554.7L763.9 550.1ZM725.8 562.9L730.3 560L741 562.9L730.3 566.6ZM757.1 601L768.5 589.6L774.4 601L768.5 606ZM815.5 651.8L819.2 649.6L824.5 651.8L819.2 653.3Z"/>
</g></g>
<use href="#coast" clip-path="url(#fr)"/>
<path d="M767.7 730.9L724.7 704.1L724.7 677.2L703.2 663.7L681.7 609.6L681.7 568.7L767.7 513.9L767.7 527.6L789.2 500.1" fill="none" stroke="#000" stroke-width="5.6" stroke-linejoin="round" stroke-linecap="round"/>
<circle cx="767.7" cy="730.9" r="7.6" fill="#ff0000"/>
<rect x="122.6" y="94.7" width="1075.1" height="836" fill="none" stroke="#222" stroke-width="1.5"/>
<path d="M100 930.7H122.6M100 797.7H122.6M100 663.7H122.6M100 527.6H122.6M100 388.3H122.6M100 244.5H122.6M100 94.7H122.6M122.6 930.7V953.7M337.6 930.7V953.7M552.6 930.7V953.7M767.7 930.7V953.7M982.7 930.7V953.7M1197.7 930.7V953.7" fill="none" stroke="#222" stroke-width="1.4"/>
<text x="81" y="941.9" text-anchor="end" class="ax">0°</text>
<text x="81" y="808.9" text-anchor="end" class="ax">5°N</text>
<text x="81" y="674.9" text-anchor="end" class="ax">10°N</text>
<text x="81" y="538.8" text-anchor="end" class="ax">15°N</text>
<text x="81" y="399.5" text-anchor="end" class="ax">20°N</text>
<text x="81" y="255.7" text-anchor="end" class="ax">25°N</text>
<text x="81" y="105.9" text-anchor="end" class="ax">30°N</text>
<text x="122.6" y="998.6" text-anchor="middle" class="ax">75°E</text>
<text x="337.6" y="998.6" text-anchor="middle" class="ax">80°E</text>
<text x="552.6" y="998.6" text-anchor="middle" class="ax">85°E</text>
<text x="767.7" y="998.6" text-anchor="middle" class="ax">90°E</text>
<text x="982.7" y="998.6" text-anchor="middle" class="ax">95°E</text>
<text x="1197.7" y="998.6" text-anchor="middle" class="ax">100°E</text>
<rect x="135.4" y="1065.4" width="95.5" height="73.8" fill="#ffffff" stroke="#000" stroke-opacity=".62" stroke-width="0.8"/>
<rect x="230.9" y="1065.4" width="95.5" height="73.8" fill="#b5c9ff" stroke="#000" stroke-opacity=".62" stroke-width="0.8"/>
<rect x="326.3" y="1065.4" width="95.5" height="73.8" fill="#8eb2ff" stroke="#000" stroke-opacity=".62" stroke-width="0.8"/>
<rect x="421.8" y="1065.4" width="95.5" height="73.8" fill="#6370f7" stroke="#000" stroke-opacity=".62" stroke-width="0.8"/>
<rect x="517.3" y="1065.4" width="95.5" height="73.8" fill="#0063ff" stroke="#000" stroke-opacity=".62" stroke-width="0.8"/>
<rect x="612.8" y="1065.4" width="95.5" height="73.8" fill="#00c633" stroke="#000" stroke-opacity=".62" stroke-width="0.8"/>
<rect x="708.2" y="1065.4" width="95.5" height="73.8" fill="#96ff00" stroke="#000" stroke-opacity=".62" stroke-width="0.8"/>
<rect x="803.7" y="1065.4" width="95.5" height="73.8" fill="#c6ff33" stroke="#000" stroke-opacity=".62" stroke-width="0.8"/>
<rect x="899.2" y="1065.4" width="95.5" height="73.8" fill="#ffc600" stroke="#000" stroke-opacity=".62" stroke-width="0.8"/>
<rect x="994.7" y="1065.4" width="95.5" height="73.8" fill="#ffa000" stroke="#000" stroke-opacity=".62" stroke-width="0.8"/>
<rect x="1090.1" y="1065.4" width="95.5" height="73.8" fill="#ff1900" stroke="#000" stroke-opacity=".62" stroke-width="0.8"/>
<text x="230.9" y="1183.4" text-anchor="middle" class="cb">1</text>
<text x="326.3" y="1183.4" text-anchor="middle" class="cb">5</text>
<text x="421.8" y="1183.4" text-anchor="middle" class="cb">10</text>
<text x="517.3" y="1183.4" text-anchor="middle" class="cb">20</text>
<text x="612.8" y="1183.4" text-anchor="middle" class="cb">30</text>
<text x="708.2" y="1183.4" text-anchor="middle" class="cb">40</text>
<text x="803.7" y="1183.4" text-anchor="middle" class="cb">50</text>
<text x="899.2" y="1183.4" text-anchor="middle" class="cb">60</text>
<text x="994.7" y="1183.4" text-anchor="middle" class="cb">70</text>
<text x="1090.1" y="1183.4" text-anchor="middle" class="cb">80</text>
</g>
<g id="panel-f" transform="translate(1250 0)">
<text x="120.3" y="62.6" class="ttl">f) TCs contribution (%): March</text>
<g clip-path="url(#fr)"><clipPath id="dr"><rect x="472" y="365.1" width="504.8" height="509.8"/></clipPath>
<g clip-path="url(#dr)" fill-rule="evenodd">
<path fill="#d6e2ff" d="M450.9 346.9L577.3 346.9L577.3 385.1L564.7 397.8L565.2 398.5L578 399.9L590.6 399.9L591.4 397.8L603.4 385.8L616 386L616.7 385.1L616.7 346.9L997 346.9L997 893L450.9 893ZM552.5 454.9L551 461.2L552.5 463.4L555.7 461.2ZM679.5 432.7L673.2 435.9L679.5 437.4L705 436.8L708.1 435.9L705 429.5L692.2 429.5Z"/>
<path fill="#b5c9ff" d="M450.9 346.9L576 346.9L576 385.1L563.5 397.8L565.2 400.1L578 404.1L590.6 404.1L593 397.8L603.4 387.4L616 387.8L618 385.1L618 346.9L653.4 346.9L653.4 385.1L641.4 397L635.1 397.8L635.1 410.4L641.5 411.2L654.1 398.8L657.3 397.8L660.5 385.1L673.2 372.4L673.2 346.9L997 346.9L997 810.5L971.6 810.5L959 797.8L946.2 801L933.5 801L927.2 804.1L946.2 823.2L997 823.2L997 893L450.9 893ZM539.9 471.8L538.3 473.9L539.9 475L543 473.9ZM552.5 434.9L551.6 435.9L550.4 448.6L547.8 461.2L552.5 467.6L562.1 461.2L558.9 448.6L558.9 435.9ZM565.2 422.2L564.3 423.2L565.2 429.5L571.6 435.9L578 436.9L579 435.9L581.1 423.1L578 420ZM692.2 422.4L685.9 423.1L679.5 426.3L666.9 434.6L654.1 434.3L651 435.9L666.9 439L679.5 440.6L705 438.6L714.5 435.9L708.1 423.1L705 422.4ZM743 421.6L739.9 423.1L743 424.7L745.2 423.1ZM895.5 840.1L889.1 842.2L895.5 845.4L901.8 842.2Z"/>
<path fill="#7f96ff" d="M450.9 346.9L574.8 346.9L574.8 385.1L562.4 397.7L565.2 401.7L578 408.3L590.6 408.3L594.6 397.8L603.4 389L616 389.6L619.2 385.1L619.2 346.9L652 346.9L652 385.1L641.5 395.6L628.8 397L627.5 397.8L627.5 410.4L628.8 411.5L641.5 412.8L644.6 410.4L654.1 400.9L663.7 397.8L666.9 391.4L679.6 386.3L685.9 385.1L680.5 372.4L680.5 346.9L997 346.9L997 797.8L971.6 797.8L965.3 791.5L959 788.3L946.2 794.6L933.5 794.6L914.5 804.1L914.5 816.8L920.8 823.2L933.5 823.2L965.3 855L952.6 867.6L952.6 893L914.5 893L914.5 867.6L908.1 864.5L901.8 867.6L901.8 893L450.9 893L450.9 807.3L489.1 807.3L501.8 810.5L514.5 810.5L527.1 807.3L533.5 804.1L546.2 791.5L539.9 788.3L527.1 788.3L520.8 791.5L514.5 797.8L501.8 797.8L489.1 785.1L450.9 785.1L450.9 759.7L476.4 759.7L482.7 753.3L476.4 747L450.9 747L450.9 551.1L476.4 551.1L478.5 550.1L489.1 539.6L495.4 537.5L489.1 536.5L450.9 536.4L451 488.8L476.4 488.8L477.6 486.7L477.4 473.9L476.4 472.9L450.9 472.9ZM527.1 493L525.6 499.4L527.1 502.5L528.1 499.4ZM565.2 420.4L549.8 435.9L546.2 448.6L544.6 461.2L535.1 473.9L539.9 477.1L549.4 473.9L566.8 461.2L566.5 448.6L581.1 435.9L587.5 423.1L578 413.6ZM628.8 505.7L627.5 512L628.8 518.4L644.6 512L641.5 505.7ZM679.5 422.2L666.8 432L654.1 431.1L644.6 435.9L654.1 438L666.9 445.4L705 440.4L717.6 436.8L730.3 436.6L732.5 435.9L730.3 429.5L717.6 429.5L714.5 423.1L705 420.8L692.2 420.8ZM743 418.4L733.5 423.1L743 427.9L749.4 423.1ZM755.8 407.3L753.6 410.5L755.8 413.6L758.9 410.4ZM768.5 396.8L765.3 397.8L768.5 400.9L774.8 397.8ZM870 823.2L863.7 829.5L882.8 848.6L895.5 851.8L908.1 845.4L911.3 842.2L908.1 839.1L895.5 835.9L885.9 829.5L882.8 826.4Z"/>
<path fill="#6370f7" d="M450.9 346.9L573.5 346.9L573.5 385.1L561.2 397.8L565.2 403.3L576.7 410.4L565.2 418.6L548 435.9L542 448.6L541.4 461.2L531.9 473.9L539.9 479.2L552.5 474.9L565.2 464.4L570 461.2L569.1 448.6L578 441.1L583.2 435.9L591.7 423.1L591.9 410.4L596.2 397.8L603.4 390.6L616 391.4L620.5 385.1L620.5 346.9L650.6 346.9L650.6 385.1L641.5 394.2L628.8 395.4L624.9 397.7L624.9 410.4L628.8 413.6L641.5 414.4L646.7 410.4L654.1 403L666.9 399.3L679.5 388.9L692.2 385.8L693 385.1L682.3 372.4L682.3 346.9L997 346.9L997 777.2L971.6 777.2L965.3 778.8L946.2 789.3L933.5 789.9L927.2 791.5L920.8 794.6L895.5 801L889.1 804.1L889.1 816.8L882.8 820L870 813.7L863.7 816.8L857.3 823.2L832 823.2L825.6 829.5L825.6 842.2L838.3 855L832 861.3L819.2 864.5L812.9 867.6L812.9 893L450.9 893L450.9 813.7L489.1 813.7L495.4 816.8L501.8 823.2L514.5 823.2L520.8 816.8L539.9 807.3L552.5 794.6L558.9 791.5L552.5 785.1L539.9 781.9L527.1 781.9L514.5 785.1L508.1 778.8L508.1 766L514.5 759.7L552.5 759.7L558.9 753.3L539.9 747L527.1 750.2L501.8 750.2L489.1 747L476.4 734.3L450.9 734.3L450.9 552.9L476.4 552.9L482.7 550.1L489.1 543.8L501.8 540.6L503.3 537.5L501.8 535.9L489.1 534.7L450.9 534.3L450.9 493L476.4 493L480.2 486.6L479.5 473.9L476.4 470.8L450.9 470.8ZM489.1 509.9L482.7 512L489.1 513.1L489.8 512ZM527.1 483.5L525 486.6L522.4 499.4L527.1 508.9L529.9 499.4L528.7 486.6ZM628.8 497.2L627.2 499.4L624.9 512L627.2 524.8L628.8 526L641.5 515.9L651 512L643 499.4L641.5 498.3ZM768.5 395L758.9 397.8L755.8 400.9L749.4 410.4L743 415.2L730.3 422.1L717.6 422.4L705 419.2L692.2 419.2L679.5 420.4L674.8 423.1L666.9 429.5L654.1 427.9L640.2 435.9L641.5 436.9L654.1 439.4L666.9 449.3L673.2 448.6L705 442.2L717.6 438.6L730.4 438L736.7 435.9L753.6 423.1L755.8 420L768.5 407.3L782.7 397.8L781.2 395.6ZM501.8 848.6L495.4 855L501.8 861.3L514.5 861.3L527.1 858.1L539.9 858.1L546.2 855L539.9 852.8L527.1 851.8L514.5 848.6ZM692.2 508.9L690.1 512L692.2 513.1L705 513.1L711.3 512L705 508.9ZM730.3 472.4L728.2 473.9L730.3 477.1L736.7 473.9ZM892.3 829.5L895.5 823.2L908.1 823.2L914.5 829.5L908.1 832.7L895.5 831.7ZM917.7 842.2L920.8 835.9L933.5 835.9L952.6 855L939.9 867.6L939.9 893L927.2 893L927.2 867.6L920.8 861.3L908.1 858.1L901.8 855L908.1 851.8ZM851 855L857.3 848.6L870 861.3L882.8 861.3L889.1 867.6L889.1 893L851 893Z"/>
<path fill="#0063ff" d="M450.9 346.9L572.2 347L572.2 385.1L560.1 397.8L565.2 404.9L574.1 410.4L565.2 416.8L546.2 435.9L539.9 447L537.7 448.6L537.7 461.2L528.7 473.9L520.8 486.6L519.2 499.4L520.8 512L527.1 513.1L528.7 512L531.7 499.3L531.9 486.6L539.9 481.4L552.5 476.7L565.2 466.5L573.2 461.2L571.6 448.6L578 443.3L585.4 435.9L593.8 423.1L594.5 410.4L597.8 397.8L603.4 392.2L616 393.2L621.8 385.1L621.8 346.9L649.2 347L649.2 385.1L641.5 392.8L628.8 393.8L622.4 397.8L622.4 410.4L628.8 415.7L641.5 416L648.9 410.4L654.1 405.2L666.9 402.5L671.6 397.8L679.5 391.4L692.2 387.4L694.6 385.1L684.1 372.4L684.1 346.9L997 346.9L997 774L971.6 774L959 777.2L946.2 785.1L933.5 786.7L920.8 789.9L908.2 790.2L901.8 791.5L895.5 794.6L882.8 797.8L876.4 804.1L857.3 813.7L844.6 814.7L832 814.7L825.6 816.8L819.2 823.2L816.1 829.5L806.5 839.1L793.8 835.9L787.5 842.2L787.5 855L800.2 867.6L800.2 893L749.4 893L749.4 855L743 851.8L740.9 855L736.7 867.6L736.7 893L520.8 893L520.8 867.6L527.1 864.5L539.9 864.5L565.2 858.1L571.6 855L565.2 852.8L552.5 851.8L527.1 845.4L520.8 842.2L520.8 829.5L533.5 816.8L539.9 813.7L552.5 801L565.2 794.6L590.6 794.6L597 791.5L609.7 778.8L603.4 772.4L590.6 785.1L571.6 766L571.6 753.3L552.5 747L543 740.6L539.9 734.3L533.5 740.6L527.1 743.8L501.8 743.8L495.4 740.6L489.1 738.5L478.5 728L476.4 721.6L450.9 721.6L450.9 554.7L476.3 554.7L486.9 550.1L489.1 548L501.8 547L506.5 537.5L501.8 532.7L489 532.9L476.4 532.2L450.9 532.2L450.9 513.6L476.4 513.6L489.1 515.2L491.4 512L489.1 505.7L450.9 505.7L450.9 497.2L476.4 497.2L482.7 486.6L481.6 473.9L476.4 468.7L450.9 468.7ZM590.6 737.5L584.3 740.6L584.3 753.3L590.6 759.7L603.4 747L628.8 747L635.1 740.6L628.8 737.5L616 737.5L603.4 738.5ZM603.4 510.5L602.3 512L603.4 518.4L605.5 512ZM754.2 397.8L745.2 410.4L730.3 420L717.6 420.8L705 417.6L692.2 417.6L679.5 418.6L671.6 423.1L666.9 427L654.1 424.7L641.5 432.7L637.6 435.8L641.5 439L654.1 440.8L666.9 450.7L685.9 448.6L705 444L717.6 440.4L730.3 439.4L740.9 435.9L755.8 424.7L769.7 410.4L781.1 400.9L785.9 397.8L781.1 391.4L768.5 393.2ZM793.8 382.3L787.5 385.1L793.8 389.8L798.6 385.1ZM628.8 493L624 499.4L622.4 512L624 524.8L628.8 528.6L641.5 518.4L654.1 513.6L666.9 513.6L670 512L666.9 510.5L654.1 509.9L646.2 499.4L641.5 496.2ZM692.2 502.5L685.9 512L692.2 515.2L705 515.2L717.6 513.3L720.8 512L717.6 508.9L705 502.5ZM730.3 469.2L724 473.9L717.6 483.5L711.3 486.6L717.6 489.8L743 477.1L744.6 473.9L743.1 471.8ZM450.9 832.7L476.4 832.7L489.1 835.9L495.4 842.2L489.1 848.6L476.4 851.8L450.9 851.8ZM800.2 855L806.5 848.6L819.2 848.6L825.6 855L819.2 858.1L806.5 861.3ZM450.9 861.3L489.1 861.3L495.4 867.6L495.4 893L450.9 893Z"/>
<path fill="#009696" d="M450.9 346.9L571 346.9L571 385.1L558.9 397.8L565.2 406.5L571.6 410.4L565.2 415L552.5 427.7L544.4 435.9L539.9 443.8L533.5 448.6L533.5 461.2L516.6 486.6L516 499.4L513.4 512L514.5 515.2L527.1 515.2L531.9 512L535.1 486.6L539.9 483.5L552.5 478.5L565.2 468.7L576.4 461.2L574.1 448.6L587.5 435.9L595.9 423.1L597 410.4L599.4 397.8L603.4 393.8L616 395L619.9 397.8L619.9 410.5L628.8 417.9L641.5 417.6L652.6 423.1L641.5 430.6L635.1 435.9L641.5 441.1L654.1 442.2L666.9 452.1L679.6 450.5L692.2 451.7L695.4 448.6L717.6 442.2L730.3 440.8L743 437.1L745.2 435.9L755.8 427.9L759.6 423.1L772.3 410.4L781.1 403L789.1 397.8L801.8 385.1L793.8 380.5L783.3 385L781.1 387.2L755.8 395.4L751 397.8L741.5 410.4L730.3 417.9L717.6 419.2L705 416L692.2 416L679.5 416.8L666.9 424.4L660.5 423.1L654.1 420L651 410.4L654.1 407.3L666.9 405.7L674.8 397.8L679.5 393.9L692.2 389L696.2 385.1L685.9 372.4L685.9 346.9L997 346.9L997 770.8L971.6 770.8L959 774L946.2 780.9L920.8 786.7L908.1 787.6L895.5 789.9L882.8 789.9L876.4 791.5L863.7 804.1L857.3 807.3L844.6 810.5L832 810.5L819.2 813.7L812.9 816.8L809.7 829.5L806.5 832.7L793.8 826.4L768.5 826.4L762.1 829.5L749.4 842.2L743 845.4L730.3 864.5L724 867.6L724 893L558.9 893L558.9 867.6L565.2 864.5L578 861.3L581.1 855L578 848.6L565.2 848.6L552.5 845.4L539.9 844.4L533.5 842.2L530.3 829.5L552.5 807.3L565.2 801L590.6 801L603.4 797.8L616 785.1L628.8 785.1L635.1 778.8L622.4 766L641.5 747L644.6 740.6L641.5 734.3L628.8 731.1L616 731.1L603.4 734.3L590.6 731.1L578 734.3L574.8 740.6L565.2 747L552.5 742.8L549.4 740.6L543 728L539.9 725.8L533.5 728L527.1 734.3L514.5 734.3L501.8 737.5L489.1 734.3L482.7 728L489.1 718.4L492.2 715.2L489.1 713.1L450.9 713.1L450.9 556.5L476.4 556.5L489.1 551.1L501.8 551.1L504.9 550.1L509.7 537.5L501.8 529.5L489.1 531.1L476.4 530L450.9 530L450.9 516.8L476.4 516.8L489 517.3L493 512L489.1 501.5L482.7 499.4L485.2 486.6L483.8 474L476.4 466.5L450.9 466.5ZM527.1 547.4L520.8 550.1L527.1 552.9L529.1 550.1ZM565.2 712.1L562.1 715.2L565.2 721.6L571.6 715.2ZM603.4 507.3L600.2 512L602.3 524.8L603.4 526.3L606.5 524.8L609.7 512ZM616 458.1L609.7 461.2L616 462.8L618.2 461.2ZM628.8 443.8L622.4 448.6L628.8 453.3L632.6 448.6ZM730.3 466L719.8 473.9L717.6 477.1L705 484.5L698.6 486.6L692.2 493L690.1 499.4L681.7 512L692.2 517.3L705 517.3L717.6 515.9L727.2 512L730.3 505.7L743 502.5L749.4 499.4L736.7 486.6L743 483.5L747.8 473.9L743 467.6ZM946.3 459.3L942.4 461.2L946.2 465.1L949 461.2ZM628.8 488.8L620.8 499.4L619.9 512L620.8 524.8L628.8 531.1L641.5 520.9L654.1 516.8L666.9 516.8L676.4 512L666.9 507.3L654.1 505.7L649.4 499.4L641.5 494.1ZM692.2 775.6L685.9 778.8L692.2 785.1L698.6 778.8ZM705 737.5L698.6 740.6L705 747L708.1 740.6ZM654.1 772.4L647.8 778.8L654.1 781.9L660.5 778.8ZM623 347L647.8 346.9L647.8 385.1L641.5 391.4L628.8 392.2L623 385.1ZM711.3 499.4L717.6 496.2L724 499.4L717.6 502.5ZM450.9 839.1L463.6 839.1L476.4 839.1L482.7 842.2L476.4 845.4L450.9 845.4ZM762.1 867.6L768.5 861.3L774.8 867.6L774.8 893L762.1 893Z"/>
<path fill="#63ff00" d="M450.9 346.9L569.7 346.9L569.7 385.1L557.7 397.8L565.2 408.1L569.1 410.5L565.2 413.2L542.6 435.9L539.9 440.6L529.3 448.6L529.3 461.2L514.5 483.5L501.8 483.5L495.4 486.6L489.1 493L485.9 473.9L476.4 464.4L450.9 464.4ZM624.3 346.9L646.4 346.9L646.4 385.1L641.5 390L628.8 390.6L624.3 385.1ZM687.7 346.9L997 346.9L997 767.6L971.6 767.6L959 770.8L946.2 776.6L939.9 778.8L920.8 783.5L895.5 786.7L882.8 786.7L870 788.3L863.7 791.5L851 804.1L844.6 806.3L832 806.3L819.2 807.3L806.5 810.5L800.2 816.8L793.8 820L768.5 820L755.8 823.2L743 835.9L739.9 842.2L730.3 858.1L717.6 861.3L679.5 861.3L666.9 864.5L660.5 867.6L660.5 893L622.4 893L622.4 867.6L603.4 848.6L590.6 861.3L587.5 855L584.3 842.2L578 835.9L571.6 842.2L565.2 844.4L558.9 842.2L552.5 835.9L539.9 835.9L536.7 829.5L552.5 813.7L558.9 816.8L565.2 823.2L578 810.5L616 810.5L628.8 797.8L641.5 797.8L647.8 791.5L654.1 788.3L660.5 791.5L666.9 797.8L679.5 785.1L692.2 797.8L717.6 797.8L724 791.5L705 772.4L692.2 769.2L679.5 772.4L666.9 772.4L647.8 753.3L651 740.6L654.1 734.3L666.9 734.3L673.2 728L666.9 724.8L616 724.8L609.7 728L603.4 730.1L597 728L578 708.9L565.2 705.7L555.7 715.2L558.9 728L552.5 734.3L549.4 728L539.9 721.6L527.1 724.8L514.5 724.8L501.8 731.1L489.1 730.1L486.9 728L489.1 724.8L498.6 715.2L501.8 708.9L508.1 702.5L501.8 700.4L489.1 708.9L450.9 708.9L451 558.3L476.4 558.3L489.1 552.9L501.8 552.9L511.3 550.1L512.9 537.5L501.8 526.3L489.1 529.3L476.4 527.9L450.9 527.9L450.9 520L476.4 520L489.1 519.5L494.6 512L501.8 500.6L511.3 512L514.5 521.6L527.1 517.3L535.1 512L535.3 499.4L538.3 486.6L552.5 480.3L565.2 470.8L581.1 461.2L578 454.9L576.7 448.5L578 447.5L584.3 448.6L590.6 451.7L593.8 448.6L590.6 442.2L589.6 435.9L598.1 423.1L601 397.8L603.4 395.4L616 396.8L617.3 397.8L617.3 410.4L628.8 420L641.5 419.2L649.4 423.1L641.5 428.4L632.6 435.9L628.8 440.6L618.2 448.6L616 451.7L603.4 458.1L600.2 461.2L603.4 464.4L616 466L628.8 456.5L635.1 448.6L641.5 443.3L654.1 443.6L666.9 453.5L679.5 451.8L692.2 458.1L701.8 448.6L717.6 444L730.3 442.2L743 439.7L749.4 435.9L755.8 431.1L762.1 423.1L774.8 410.4L781.1 405.2L792.3 397.8L805 385.1L793.8 378.7L768.5 389.6L755.8 393.8L747.8 397.8L738.3 410.4L730.3 415.7L717.6 417.6L705 414.4L692.2 414.4L679.5 415L666.9 416.8L654.1 413.6L653.1 410.4L654.1 409.4L666.9 408.9L679.5 396.5L692.2 390.6L697.8 385.1L687.7 372.4ZM946.2 458L939.9 461.2L946.2 467.6L950.8 461.2ZM527.1 545.6L516.6 550.1L527.1 554.7L530.4 550.2ZM603.4 504.1L598.1 512L600.2 524.8L603.4 529.5L612.9 524.8L613.9 512ZM717.6 472.9L714.5 473.9L705 480.3L692.2 480.3L685.9 486.6L685.9 499.4L679.5 508.9L666.9 504.1L654.1 501.5L652.6 499.4L654.1 493L660.5 486.6L654.1 485.8L641.5 491.9L630.9 486.6L628.8 484.5L617.6 499.4L617.6 524.8L628.8 533.6L641.5 523.5L654.1 520L666.9 520L679.5 514.2L692.2 519.5L705 519.5L717.6 518.4L730.3 515.2L755.8 502.5L758.9 499.4L746.2 486.6L751 473.9L743 463.4L730.3 462.8ZM781.1 775.6L774.8 778.8L781.1 785.1L787.5 778.8ZM692.2 734.3L685.9 740.6L685.9 753.3L692.2 759.7L705 759.7L714.5 740.6L705 731.1ZM743 785.1L736.7 791.5L743 794.6L749.4 791.5ZM558.9 740.6L565.2 734.3L568.4 740.6L565.2 742.8Z"/>
<path fill="#96ff00" d="M450.9 346.9L500.8 346.9L500.8 372.4L501.8 373.9L502.7 372.4L502.7 346.9L568.4 346.9L568.4 385.1L556.6 397.8L565.2 409.7L566.5 410.4L540.8 435.9L539.9 437.4L514.5 447.6L508.1 448.6L520.8 461.2L516.6 473.9L514.5 477.1L501.8 477.1L489.1 480.3L488 473.9L476.4 462.3L450.9 462.3ZM625.6 346.9L645 346.9L645 385.1L641.5 388.6L628.8 389L625.6 385.1ZM689.5 346.9L997 346.9L997 483.5L971.6 483.5L965.3 486.6L971.6 487.9L997 487.9L997 762.9L971.6 762.9L965.3 766L959 767.6L946.2 772.4L933.5 775.6L927.2 778.8L908.1 782.6L895.5 783.5L882.8 783.5L870 781.9L857.3 785.1L844.6 785.1L832 797.8L806.5 797.8L800.2 791.5L800.2 778.8L793.8 772.4L781.1 769.2L768.5 775.6L755.8 775.6L743.1 776.6L730.3 775.6L717.6 772.4L711.3 766L714.5 753.3L717.6 747L736.7 728L730.3 724.8L717.6 721.6L705 724.8L692.2 724.8L666.9 718.4L616 718.4L609.7 715.2L603.4 708.9L590.6 708.9L584.3 702.5L578 699.4L565.2 699.4L558.9 702.5L546.2 715.2L539.9 717.4L527.1 718.4L514.5 718.4L508.1 715.2L514.5 708.9L517.6 702.5L514.5 699.4L501.8 696.2L489.1 704.7L451 704.7L451 666.6L476.4 666.6L489.1 666L514.5 666.6L520.8 664.5L514.5 658.1L501.8 658.1L495.4 651.8L489.1 648.6L482.7 651.8L476.4 658.1L450.9 658.1L450.9 560.1L476.4 560.1L489 554.7L501.8 554.7L514.5 551.1L527.1 556.5L531.7 550.1L527.1 543.8L516 537.5L516.6 524.8L527.1 519.5L538.3 512L537.1 499.4L539.9 489.8L542 486.6L552.5 482.1L565.2 472.9L578 467.6L587.5 461.2L590.6 458.1L603.4 470.8L616 469.2L628.8 459.7L641.5 462.5L644.6 461.2L641.5 458.1L637.6 448.6L641.5 445.4L654.1 445L666.9 454.9L679.5 453.1L691.3 461.2L691 473.9L679.6 485.4L666.9 485.7L654.1 484.2L641.5 489.8L635.1 486.6L628.8 480.3L616 497.2L603.4 500.9L595.9 512L598.1 524.8L603.4 532.7L616 538.7L628.8 536.2L641.5 526.3L654.1 523.2L666.9 523.2L679.5 518.4L692.2 521.6L717.6 520.9L730.3 521.6L743 518.4L749.4 512L755.8 508.9L765.3 499.4L752.6 486.6L754.2 473.9L749.4 461.2L743.1 459.1L730.3 459.7L729.1 461.2L717.6 470.8L708.1 473.9L705 476.1L698.6 473.9L695.4 461.2L708.1 448.6L717.6 445.8L730.3 443.6L743 442.2L753.6 435.9L755.8 434.3L764.6 423.1L777.3 410.5L781.1 407.3L797 397.8L806.5 388.2L812.9 385.1L806.5 378.7L793.8 376.9L781.1 381.9L768.5 387.8L755.8 392.2L744.6 397.8L735.1 410.4L730.3 413.6L717.6 416L705 412.8L679.5 413.2L670 410.4L679.5 400.9L681.1 397.8L692.2 392.2L699.4 385.1L689.5 372.4ZM832 493L812.9 512L812.9 524.8L819.2 531.1L832 531.1L844.6 518.4L847.8 512L851 499.4L844.6 496.2ZM933.5 396.8L927.2 397.8L933.5 404.1L936.7 397.8ZM946.2 456.7L937.4 461.2L946.2 470.1L952.6 461.2ZM946.2 708.9L939.9 715.2L946.2 721.6L959 721.6L965.3 715.2L959 708.9ZM602.6 397.8L603.4 397L609.7 397.8L609.7 410.4L612.9 423.1L616 424.7L628.8 422.1L641.5 420.8L646.2 423.1L641.5 426.3L630 435.9L628.8 437.4L616 447L609.7 448.6L603.4 451.7L600.2 448.6L592.8 435.9L600.2 423.1L602.1 410.4ZM660.5 499.4L666.9 493L679.5 493L681.7 499.4L679.5 502.5L666.9 500.9ZM496.2 512L501.8 503.2L509.2 512L501.8 523.2ZM450.9 523.2L476.4 523.2L489.1 521.6L498.6 524.8L489.1 527.5L476.4 525.8L450.9 525.8ZM724 804.1L730.3 797.8L743 801L755.8 797.8L768.5 797.8L774.8 804.1L768.5 810.5L755.8 810.5L749.4 816.8L736.7 829.5L733.5 842.2L730.3 848.6L717.6 848.6L705 851.8L679.5 851.8L666.9 858.1L654.1 861.3L641.5 848.6L628.8 848.6L609.7 829.5L628.8 810.5L666.9 810.5L679.5 807.3L717.6 807.3Z"/>
<path fill="#c6ff33" d="M450.9 346.9L498.9 346.9L498.9 372.4L501.8 377.1L504.6 372.4L504.6 347L567.2 346.9L567.2 385.1L555.4 397.8L552.5 408.3L539.9 409.4L526.1 423.1L526.1 435.9L514.5 445.7L501.8 447.5L450.9 447.5ZM626.8 346.9L643.6 346.9L643.6 385L641.5 387.2L628.8 387.4L626.8 385.1ZM691.3 346.9L698.6 346.9L698.6 372.4L692.2 373.4L691.3 372.4ZM707.1 346.9L803.4 346.9L803.4 372.4L793.8 375.1L781.1 379.8L770.6 385L755.8 390.6L743 396.7L741.5 397.8L731.9 410.4L730.3 411.5L717.6 414.4L705 411.2L679.5 411.4L676.4 410.4L679.5 407.3L684.3 397.8L692.2 393.8L701 385.1L705 374.5L707.1 372.4ZM822.4 346.9L997 346.9L997 477.1L971.6 477.1L959 480.3L957.4 486.6L959 487.7L971.6 490.5L997 490.5L997 661.3L971.6 661.3L968.5 664.5L971.6 670.8L997 670.8L997 696.2L971.6 696.2L959 699.4L946.2 699.4L939.9 702.5L927.2 715.2L939.9 728L939.9 740.6L946.2 747L959 743.8L965.3 740.6L971.6 734.3L997 734.3L997 756.5L971.6 756.5L952.6 766L946.2 768.2L933.5 769.2L914.5 778.8L908.1 780L882.8 780.3L876.4 778.8L870 772.4L832 772.4L825.6 766L819.2 762.9L806.5 763.9L793.8 762.9L781.1 759.7L768.5 747L755.8 747L749.4 753.3L755.8 759.7L768.5 759.7L774.8 766L768.5 769.2L755.8 769.2L743 772.4L730.3 769.2L724 766L736.7 753.3L736.7 740.6L743 734.3L746.2 728L743 721.6L730.3 718.4L717.6 712.1L705 718.4L692.2 718.4L685.9 715.2L673.2 702.5L673.2 689.8L670 677.1L666.9 674L654.1 670.8L628.8 696.2L590.6 696.2L578 693L565.2 693L552.5 696.2L546.2 689.8L543 677.1L539.9 674L533.5 677.1L520.8 689.8L514.5 693L501.8 692L489.1 696.2L482.7 689.8L476.4 686.7L450.9 686.7L450.9 670.8L476.4 670.8L489.1 669.2L501.8 670.8L527.1 670.8L530.3 664.5L533.5 651.8L527.1 650.2L514.5 648.6L501.8 648.6L489.1 642.2L476.4 648.6L450.9 648.6L450.9 629.5L476.4 629.5L479.5 626.3L476.4 624.8L450.9 624.8L450.9 561.9L476.4 561.9L489.1 556.5L501.8 556.5L514.5 553L527.1 558.3L533 550.1L527.1 542L519.2 537.5L520.8 524.8L539.9 514.2L540.9 512L538.9 499.4L539.9 496.2L546.2 486.6L552.5 483.9L565.2 476.1L590.6 467.6L603.4 480.3L609.7 473.9L616 472.4L628.8 467.6L641.5 465.1L651 461.2L641.5 451.7L640.2 448.5L641.5 447.5L654.1 446.4L666.9 456.3L679.5 454.4L689.4 461.2L688.4 473.9L679.5 482.8L666.9 483.8L654.1 482.6L641.5 487.7L639.3 486.6L628.8 476.1L616 493L603.4 493L597 499.4L593.8 512L595.9 524.8L603.4 535.9L616 541.3L628.8 538.5L641.5 529.5L654.1 525.8L666.9 525.8L673.2 524.8L679.5 522.6L692.2 523.7L717.6 523.5L724 524.8L730.4 526.9L743 527.9L749.4 524.8L774.8 499.4L774.8 486.6L762.1 473.9L762.1 461.2L743 454.9L730.3 456.5L726.5 461.2L717.6 468.7L705 467.6L701.8 461.2L714.5 448.6L730.3 445L743 444.7L755.8 438L758.9 435.9L767.2 423.1L781.1 409.4L793.8 404.1L803.4 397.8L806.5 394.6L825.6 385.1L822.4 372.4ZM832 483.5L825.6 486.6L800.2 512L803.4 524.8L816.1 537.5L819.2 543.8L832 543.8L851 524.8L854.2 512L857.3 505.7L863.7 499.4ZM857.4 434.8L851 435.9L857.3 442.2L870 439L873.2 435.9L870 434.3ZM882.8 658.1L876.4 664.5L876.4 677.1L882.8 683.5L908.1 683.5L911.3 677.1L908.1 670.8L895.5 670.8ZM920.8 396.7L919.3 397.8L914.5 410.4L920.8 412.6L933.5 412.6L935.7 410.5L943.1 397.8L933.5 394.9ZM946.2 455.4L934.8 461.2L946.2 472.7L954.4 461.2ZM489.1 587.2L482.7 588.2L489.1 589.8L490.6 588.2ZM781.2 459.1L774.8 461.2L781.1 467.6L787.5 461.2ZM602.3 423.1L603.4 416.8L606.5 423.1L616 427.9L626.6 435.9L616 443.8L603.4 445.4L597 435.9ZM635.1 423.1L641.5 422.4L643 423.1L641.5 424.2ZM497.8 512L501.8 505.7L507 512L501.8 520ZM482.7 524.8L489.1 523.7L492.2 524.8L489.1 525.7ZM524 702.5L527.1 696.2L533.5 702.5L527.1 708.9ZM673.2 816.8L679.5 813.7L717.6 813.7L724 816.8L724 829.5L711.3 842.2L705 845.4L679.5 845.4L666.9 848.6L654.1 835.9L641.5 835.9L635.1 829.5L641.5 823.2L666.9 823.2Z"/>
<path fill="#ffff00" d="M450.9 346.9L497.1 346.9L497.1 372.4L501.8 380.3L506.4 372.4L506.4 346.9L565.9 346.9L565.9 385.1L554.3 397.8L552.5 404.1L539.9 407.2L523.9 423.1L523.9 435.9L514.5 443.9L501.8 445.3L450.9 445.3ZM514.5 388.2L511.2 397.8L514.5 401L517.7 397.8ZM628.1 346.9L642.2 346.9L642.2 385.1L641.5 385.8L628.8 385.8L628.1 385.1ZM711.3 346.9L797 346.9L797 372.4L781.1 377.6L766.3 385.1L743 394.5L738.3 397.8L730.4 408.3L727.2 410.4L717.6 412.8L708.1 410.4L705 409.1L692.2 407.3L687.5 397.8L692.2 395.4L702.6 385.1L705 378.7L711.3 372.4ZM828.8 346.9L838.3 346.9L838.3 372.4L844.6 374.5L851 372.4L851 346.9L863.7 346.9L863.7 372.4L870 378.7L872.2 372.4L872.2 346.9L997 346.9L997 454.9L971.6 454.9L968.5 461.2L959 470.8L956.2 461.2L946.2 454.1L933.5 459.9L927.2 461.2L939.9 473.9L946.2 476.1L954.2 486.6L959 489.9L971.6 493L997 493L997 654.9L971.6 654.9L962.1 664.5L965.3 677.1L965.3 689.8L959 693L946.2 693L933.5 696.2L920.8 708.9L914.5 702.5L914.5 689.8L917.7 677.1L914.5 664.5L914.5 651.8L908.1 648.6L882.8 648.6L866.9 664.5L863.7 677.1L889.1 702.5L895.5 705.7L908.1 708.9L927.2 728L927.2 740.6L930.4 753.3L927.2 766L920.8 769.2L908.1 772.4L901.8 766L895.5 762.9L889.1 766L882.8 772.4L870 759.7L857.3 762.9L847.8 753.3L844.6 747L832 734.3L825.6 740.6L825.6 753.3L819.2 756.5L806.5 759.7L793.8 756.5L787.5 753.3L787.5 740.6L781.1 734.3L755.8 734.3L752.6 728L749.4 715.2L743 708.9L730.3 708.9L717.6 705.7L711.3 702.5L698.6 689.8L692.2 686.7L679.5 683.5L676.4 677.1L666.9 667.6L654.1 661.3L647.8 664.5L641.5 670.8L628.8 670.8L616 683.5L578 683.5L565.2 670.8L552.5 683.5L549.4 677.1L536.7 664.5L539.9 658.1L546.2 651.8L539.9 648.6L527.1 647L514.5 642.2L501.8 642.2L495.4 639L489.1 632.7L485.9 626.3L476.4 621.6L450.9 621.6L451 590.4L476.4 590.4L489.1 593L493.8 588.2L489.1 585L450.9 585.1L450.9 566L476.4 566L478.5 562.9L489.1 558.3L501.8 558.3L514.5 554.8L527.1 560.1L534.3 550.1L527.1 540.2L522.4 537.5L525 524.8L539.9 518.4L543.1 512L542 499.4L550.4 486.6L565.2 480.3L578 477.1L587.5 486.6L584.3 499.4L590.6 505.7L593.8 524.8L597 537.5L616 543.8L628.8 540.7L635.1 537.5L641.5 532.7L654.1 528L666.9 528L679.6 526.1L705 527.9L717.6 527.9L743 534.3L755.8 531.1L781.1 505.7L793.8 518.4L797 524.8L809.7 537.5L812.9 550.1L819.2 553.3L832 553.3L844.6 556.5L851 550.1L851 537.5L863.7 524.8L863.7 512L876.4 499.4L870 493L857.3 489.8L851 486.6L857.3 480.3L870 480.3L873.2 473.9L873.2 461.2L870 454.9L863.7 448.6L870 445.4L879.6 435.9L870 431.1L857.3 432.6L838.3 435.9L825.6 448.6L832 454.9L844.6 454.9L851 461.2L851 473.9L844.6 480.3L832 477.1L819.2 483.5L806.5 480.3L800.2 473.9L812.9 461.2L806.5 458.1L793.8 458.1L781.1 454.9L755.8 454.9L743 450.7L730.3 453.3L724 461.2L717.6 466.5L707.1 461.2L717.6 450.7L720.8 448.6L730.3 446.4L743 447.3L755.8 442.2L765.3 435.9L768.5 429.5L787.5 410.4L806.5 404.1L812.9 397.8L832 387.2L834.1 385.1L832 378.7L828.8 372.4ZM882.8 518.4L876.4 524.8L882.8 526.9L889.1 524.8ZM895.5 493L889.1 499.4L895.5 502.5L901.8 499.4ZM920.8 394.5L916.1 397.8L908.1 408.3L901.8 410.4L908.1 416.8L933.5 416.8L939.9 410.4L946.2 400.9L952.6 397.8L933.5 393.1ZM920.8 534.3L917.7 537.5L920.8 538.8L924 537.5ZM601.2 435.9L603.4 429.5L616 431.1L622.4 435.9L616 440.6L603.4 439ZM647.8 448.6L654.1 447.8L655.1 448.6L654.1 454.9ZM656.3 461.2L666.9 457.7L679.5 455.7L687.6 461.2L685.9 473.9L679.5 480.3L666.9 482L654.1 481L641.5 484.5L630.9 473.9L641.5 467.6L654.1 462.6ZM609.7 486.6L616 480.3L617.6 486.6L616 488.8ZM499.4 512L501.8 508.2L504.9 512L501.8 516.8ZM450.9 635.9L463.6 635.9L476.4 635.9L482.7 639L476.4 642.2L450.9 642.2ZM450.9 675L476.4 675L489.1 672.4L501.8 675L514.5 675L520.8 677.1L514.5 683.5L501.8 683.5L489.1 686.7L476.4 680.3L450.9 680.3ZM952.6 753.3L959 750.2L965.3 753.3L959 756.5ZM736.7 766L743 759.7L749.4 766L743 768.2ZM673.2 829.5L679.5 823.2L705 823.2L711.3 829.5L705 835.9L679.5 835.9Z"/>
<path fill="#ffa000" d="M450.9 346.9L495.2 346.9L495.2 372.4L501.8 383.5L508.1 385.1L509 397.8L514.5 403.2L519.9 397.8L516.1 385.1L514.5 383.4L508.3 372.4L508.3 346.9L558.9 346.9L558.9 385.1L552.5 399.9L539.9 405L521.7 423.1L521.7 435.9L514.5 442L501.8 443.1L450.9 443.1ZM715.5 346.9L790.7 346.9L790.7 372.4L781.1 375.5L768.5 381.1L762.1 385.1L743 392.3L735.1 397.8L730.3 404.1L720.8 410.4L717.6 411.2L714.5 410.4L692.2 400.9L690.7 397.8L692.2 397L704.2 385.1L705 382.9L715.5 372.4ZM876.4 346.9L997 346.9L997 432.7L971.6 432.7L965.3 435.9L965.3 448.6L962.1 461.2L959 464.4L958 461.2L946.2 452.8L933.5 457.3L920.8 459.6L908.1 459.6L901.8 461.2L889.1 473.9L889.1 486.6L882.8 493L876.4 486.6L879.6 473.9L879.6 461.2L876.4 448.6L889.1 435.9L882.8 432.7L870 427.9L857.3 430.4L844.6 431.9L832 432.7L819.2 432.7L812.9 435.9L812.9 448.6L806.5 451.7L793.8 451.7L781.1 450.7L774.8 448.6L774.8 435.9L781.1 429.5L793.8 429.5L806.5 416.8L809.7 410.4L822.4 397.8L832 391.4L844.6 378.7L857.3 375.5L866.9 385.1L870 386.7L876.4 385.1ZM959 383.4L946.2 393.8L933.5 391.2L920.8 392.3L912.9 397.8L908.1 404.1L895.5 407.3L892.3 410.4L905 423.1L901.8 435.9L908.1 437.5L914.5 435.9L914.5 423.1L920.8 421L933.5 421L944.1 410.4L946.2 407.3L959 399.4L960.6 397.8L962.1 385.1ZM609.7 435.9L616 434.3L618.2 435.9L616 437.4ZM727.2 448.6L730.3 447.8L736.7 448.6L730.3 450.1ZM749.4 448.6L755.8 446.4L762.1 448.6L755.8 450.7ZM660.5 461.2L666.9 459.1L679.5 457L685.7 461.2L683.4 474L679.5 477.8L666.9 480.1L654.1 479.3L641.5 480.3L635.1 473.9L641.5 470.1L654.1 465.2ZM711.3 461.2L717.6 454.9L721.5 461.2L717.6 464.4ZM812.9 473.9L819.2 467.6L825.6 473.9L819.2 477.1ZM901.8 473.9L908.1 467.6L920.8 467.6L927.2 473.9L933.5 475.6L946.2 480.3L951 486.6L959 492.1L971.7 495.5L997 495.5L997 597.8L971.6 597.8L965.3 601L965.3 613.6L971.6 620L997 620L997 645.4L971.6 645.4L933.5 683.5L927.2 677.1L927.2 651.8L933.5 645.4L946.2 645.4L952.6 639L939.9 626.3L939.9 613.6L933.5 607.3L920.8 610.5L914.5 613.6L908.1 620L895.5 623.2L892.3 626.3L895.5 632.7L920.8 632.7L927.2 639L920.8 645.4L908.1 642.2L882.8 642.2L860.5 664.5L857.3 670.8L844.6 670.8L838.3 677.1L844.6 683.5L857.3 683.5L882.8 708.9L895.5 712.1L908.1 718.4L917.7 728L914.5 740.6L920.8 747L924 753.3L920.8 759.7L908.1 759.7L895.5 756.5L889.1 753.3L901.8 740.6L895.5 734.3L882.8 734.3L863.7 753.3L857.3 756.5L854.2 753.3L851 740.6L863.7 728L857.3 721.6L832 721.6L819.2 724.8L806.5 721.6L793.8 721.6L781.1 724.8L768.5 724.8L758.9 715.2L762.1 702.5L762.1 689.8L755.8 686.7L743 686.7L733.5 677.1L730.3 670.8L717.6 670.8L698.6 651.8L692.2 650.1L685.9 651.8L679.5 658.1L666.9 658.1L654.1 654.9L641.5 658.1L565.2 658.1L562.1 664.5L552.5 674L543 664.5L552.5 654.9L558.9 651.8L539.9 642.2L527.1 643.8L517.6 639L514.5 632.7L501.8 635.9L492.2 626.3L476.4 618.4L450.9 618.4L450.9 594.6L476.4 594.6L489.1 596.2L497 588.2L489.1 582.8L476.4 578.7L450.9 578.7L450.9 572.4L476.4 572.4L482.7 562.9L489.1 560.1L501.8 560.1L514.5 556.7L527.1 561.9L535.6 550.1L527.1 538.4L525.6 537.5L527.1 531.1L533.5 524.8L539.9 522.6L545.3 512L546.2 499.4L552.5 489.8L558.9 486.6L565.2 484.5L578 483.5L581.1 486.6L578 493L571.6 499.4L578 502.5L587.5 512L590.6 518.4L591.7 524.8L590.6 531.1L578 534.3L576.3 537.5L578 539.1L590.6 539.1L603.4 543.8L616 546.3L628.8 542.9L639.3 537.5L641.5 535.9L654.1 530.2L666.9 530.2L679.5 528.7L692.2 531.1L705 534.3L717.6 534.3L730.3 535.3L736.7 537.5L743 540.6L755.8 540.6L762.1 537.5L781.1 518.4L800.2 537.5L800.2 562.9L806.5 569.2L812.9 562.9L819.2 559.7L832 559.7L844.6 566L860.5 550.1L860.5 537.5L870 527.9L882.8 531.1L895.5 526.4L908.1 531.1L911.3 537.5L920.8 541.4L930.4 537.5L920.8 527.9L908.1 521.6L895.5 518.4L889.1 512L914.5 499.4L908.1 496.2L898.6 486.6ZM501.8 569.2L497.8 575.5L501.8 581.9L505.7 575.5ZM819.2 674L812.9 677.1L819.2 683.5L825.6 677.1ZM482.7 677.1L489.1 675.6L495.4 677.1L489.1 680.3ZM685.9 677.1L692.2 670.8L698.6 677.1L692.2 680.3ZM800.2 740.6L806.5 734.3L812.9 740.6L812.9 753.3L806.5 755.5L800.2 753.3Z"/>
<path fill="#ff7c00" d="M450.9 346.9L493.3 346.9L493.3 372.4L499.5 385.1L501.8 387.3L506.8 397.8L514.5 405.4L522.1 397.8L519.5 385.1L514.5 380L510.2 372.4L510.2 346.9L537.6 346.9L537.6 385.1L550.3 397.8L539.9 402.8L519.5 423.1L519.5 435.9L514.5 440.1L501.8 440.9L451 440.9ZM719.9 346.9L784.3 346.9L784.3 372.4L768.5 378.4L757.9 385L743 390.1L731.9 397.8L730.3 399.9L717.6 408.2L705 403.8L694.5 397.8L719.9 372.4ZM880.6 346.9L997 346.9L997 426.3L971.6 426.3L959 429.5L956.7 435.9L956.7 448.6L933.5 454.6L920.8 456.2L908.1 456.2L895.5 454.9L889.1 448.6L895.5 442.2L908.1 440.9L920.8 438.1L927.2 435.9L946.2 416.8L948.5 410.4L959 402.8L964 397.8L968.5 385.1L959 380L953.9 385.1L946.2 391.1L933.5 389.3L920.8 390.1L909.7 397.8L908.1 399.9L895.5 400.9L885.9 410.4L898.6 423.1L895.5 429.5L882.8 426.3L870 424.7L857.3 428.2L844.6 429.2L832 426.3L819.2 426.3L812.9 423.1L816.1 410.4L844.6 382.9L857.3 381.9L860.5 385.1L870.1 390.1L882.8 391.4L885 385.1L880.6 372.4ZM664.7 461.2L679.5 458.3L683.8 461.2L680.8 473.9L679.5 475.2L666.9 478.2L654.1 477.7L641.5 476.1L639.3 473.9L641.5 472.7L654.1 467.9ZM905 486.6L908.1 480.3L920.8 476.2L933.5 479L946.2 484.5L947.8 486.6L959 494.3L971.6 498.1L997.1 498.1L997 591.4L971.6 591.4L959 594.6L933.5 594.6L927.2 601L920.8 604.1L908.1 607.3L901.8 613.6L895.5 616.8L885.9 626.3L882.8 632.7L857.3 658.1L832 658.1L825.6 664.5L819.2 667.6L806.5 670.8L787.5 689.8L793.8 696.2L857.3 696.2L863.7 702.5L857.3 708.9L832 708.9L825.6 715.2L819.2 718.4L812.9 715.2L806.5 708.9L793.8 708.9L787.5 715.2L781.1 718.4L768.5 718.4L765.3 715.2L768.5 708.9L774.8 702.5L774.8 689.8L768.5 683.5L755.8 680.3L743 680.3L739.9 677.1L743 670.8L749.4 664.5L749.4 651.8L743 645.4L730.3 649.5L717.6 645.4L705 649.5L692.2 646.7L679.5 649.5L616 649.5L603.4 645.4L565.2 645.4L552.5 642.2L546.2 639L539.9 620L514.5 620L508.1 626.3L501.8 629.5L498.6 626.3L476.4 615.2L450.9 615.2L450.9 598.8L476.4 598.8L489.1 599.4L501.8 586.1L508.4 575.5L501.8 565L495.1 575.5L489.1 580.6L478.6 575.5L486.9 562.9L489.1 561.9L501.8 561.9L514.5 558.6L524.9 562.9L527.1 565.1L533.5 562.9L539.9 539.7L542.1 537.5L542.1 524.8L547.5 512L550.4 499.4L552.5 496.2L558.9 499.4L565.2 501.6L578 508.9L581.1 512L584.3 524.8L578 527.9L572.9 537.5L578 542.5L590.7 542.5L603.4 548L616 548.9L628.8 545.1L641.5 539.7L643.7 537.5L654.1 532.4L666.9 532.4L679.5 531.4L698.6 537.5L705 543.8L730.3 543.8L743 547L755.8 547L768.5 543.8L781.1 531.1L787.5 537.5L787.5 588.2L793.8 594.6L806.5 581.9L832 581.9L838.3 575.5L844.6 572.4L866.9 550.1L866.9 537.5L870 534.3L882.8 535.3L895.5 529.8L905.9 537.5L908.1 539.7L920.8 544.1L933.5 539.7L935.8 537.5L933.5 531.1L920.8 518.4L908.1 515.2L901.8 512L908.1 508.9L920.8 505.7L927.2 499.4L920.8 497.1L908.1 489.8ZM832 594.6L825.6 601L832 607.3L838.3 601ZM524 639L527.1 632.7L533.5 639L527.1 640.6ZM549.4 664.5L552.5 661.3L555.7 664.5L552.5 667.6ZM901.8 728L908.1 724.8L911.3 728L908.1 734.3Z"/>
<path fill="#ff1900" d="M479.9 346.9L491.5 346.9L491.5 372.4L494.9 385.1L501.8 391.9L504.6 397.8L514.5 407.6L524.3 397.8L522.8 385.1L514.5 376.7L512 372.4L512 346.9L533 346.9L533 385.1L545.7 397.8L539.9 400.6L517.3 423.1L517.3 435.9L514.5 438.3L450.9 438.7L450.9 388.6L476.4 388.6L479.9 385.1ZM724.5 346.9L777.6 346.9L777.6 372.4L768.5 375.8L755.8 381.5L752.2 385.1L743 387.9L730.3 394.2L726.8 397.8L717.6 403.6L705 401.2L699.1 397.8L724.5 372.4ZM886.3 346.9L997 346.9L997 381.5L971.6 381.5L959 376.7L950.6 385.1L946.2 388.5L933.5 387.5L920.8 387.9L908.1 394.2L895.5 394.2L889.6 385.1L886.3 372.4ZM835.5 397.8L844.6 388.6L857.3 388.6L870 393.4L879.2 397.8L879.2 410.4L866.5 423.1L857.3 426L844.6 426.6L835.5 423.1ZM967.3 397.8L971.6 388.6L997 388.6L997 419.6L959 419.6L953.1 410.4L959 406.1ZM946.2 426.7L952.1 435.9L952.1 448.6L946.2 450.2L933.5 452L920.8 452.9L908.1 452.9L899 448.6L908.1 444.2L920.8 442.7L933.5 439.4ZM670.4 461.2L679.5 459.6L682 461.2L679.5 470.4L676 473.9L666.9 476.4L654.1 476.1L645 473.9L654.1 470.5L666.9 464.8ZM911.7 486.6L920.8 480.8L933.5 482.3L942.7 486.6L946.2 490.2L959 496.5L968.1 499.4L971.6 502.9L997 502.9L997 572L971.6 572L959 584.7L933.5 584.7L920.8 597.4L895.5 597.4L886.3 588.2L886.3 575.5L899 562.9L899 550.1L886.3 537.5L895.5 533.1L901.3 537.5L908.1 544.3L920.8 546.7L933.5 544.3L940.4 537.5L937.1 524.8L949.8 512L933.5 495.8L920.8 492.5ZM549.7 512L552.5 502.9L565.2 506.2L574.4 512L574.4 524.8L569.6 537.5L578 545.8L590.6 545.8L599.8 550.1L603.4 553.7L616 553.7L619.6 550.1L628.8 547.3L641.5 544.3L648.3 537.5L654.1 534.6L679.5 534L688.7 537.5L705 553.7L743 553.7L752.2 562.9L752.2 575.5L739.5 588.2L739.5 601L755.8 617.2L768.5 604.5L793.8 604.5L806.5 591.8L815.7 601L815.7 613.6L819.2 617.2L832 617.2L844.6 604.5L857.3 604.5L860.9 601L860.9 588.2L870 579.1L879.2 588.2L879.2 601L866.5 613.6L866.5 626.3L857.3 635.5L844.6 635.5L832 648.2L819.2 635.5L793.8 635.5L790.3 639L790.3 664.5L781.2 673.6L768.5 673.6L759.3 664.5L772 651.8L768.5 648.2L755.8 648.2L743 635.5L739.5 639L730.3 644.9L721.2 639L717.6 635.5L714.1 639L705 644.9L692.2 643.4L679.5 644.9L616 644.9L606.9 639L603.4 635.5L552.5 635.5L546.7 626.3L543.4 613.6L539.9 610.1L514.5 610.1L505.3 601L505.3 588.2L511 575.5L505.3 562.9L514.5 560.4L520.3 562.9L527.1 569.7L539.9 566.4L543.4 562.9L539.9 559.3L538.2 550.1L539.9 544.3L546.7 537.5L546.7 524.8ZM552.5 584.7L549 588.2L549 601L552.5 604.5L568.8 588.2L565.2 584.7ZM590.6 559.3L587.1 562.9L590.6 566.4L594.2 562.9ZM717.6 610.1L714.1 613.6L717.6 617.2L721.2 613.6ZM483.2 575.5L489.1 566.4L492.5 575.5L489.1 578.4ZM479.9 613.6L489.1 604.5L498.2 613.6L489.1 618Z"/>
<ellipse cx="929.3" cy="408" rx="17" ry="12" fill="#c6ff33"/>
<ellipse cx="929.3" cy="408" rx="15.5" ry="11" fill="#96ff00"/>
<ellipse cx="929.3" cy="408" rx="14" ry="10" fill="#63ff00"/>
<ellipse cx="929.3" cy="408" rx="12.2" ry="8.9" fill="#009696"/>
<ellipse cx="929.3" cy="408" rx="11.3" ry="8.3" fill="#0063ff"/>
<ellipse cx="929.3" cy="408" rx="10.1" ry="7.3" fill="#6370f7"/>
<ellipse cx="929.3" cy="408" rx="9" ry="6.5" fill="#7f96ff"/>
<ellipse cx="929.3" cy="408" rx="8" ry="5.8" fill="#b5c9ff"/>
<ellipse cx="929.3" cy="408" rx="6.8" ry="5.0" fill="#d6e2ff"/>
<ellipse cx="926.9" cy="408" rx="3.8" ry="4" fill="#fff"/>
<path fill="#fff" fill-rule="nonzero" d="M493.3 363.3H526V370.9H493.3zM579.3 363.3H633.5V370.9H579.3zM654.5 363.3H665.8V370.9H654.5zM579.3 370.4H633.5V378H579.3zM654.5 370.4H665.8V378H654.5zM568.5 377.5H644.3V385H568.5zM654.5 377.5H665.8V385H654.5zM467.8 384.5H493.8V392.1H467.8zM547 384.5H601.3V392.1H547zM611.5 384.5H655V392.1H611.5zM467.8 391.6H493.8V399.2H467.8zM536.3 391.6H655V399.2H536.3zM525.5 398.7H644.3V406.2H525.5zM514.8 405.7H590.5V413.2H514.8zM467.8 412.7H493.8V420.3H467.8zM504 412.7H536.8V420.3H504zM547 412.7H590.5V420.3H547zM467.8 419.8H536.8V427.3H467.8zM547 419.8H579.8V427.3H547zM467.8 426.8H569V434.3H467.8zM467.8 433.8H569V441.3H467.8zM467.8 440.8H547.5V448.3H467.8zM467.8 447.8H558.3V455.2H467.8zM467.8 454.7H526V462.2H467.8zM547 454.7H558.3V462.2H547zM467.8 461.7H515.3V469.1H467.8zM467.8 468.6H483V476.1H467.8zM493.3 544.5H526V551.9H493.3zM493.3 551.4H526V558.7H493.3zM493.3 558.2H515.3V565.6H493.3z"/>
</g></g>
<use href="#coast" clip-path="url(#fr)"/>
<rect x="122.6" y="94.7" width="1075.1" height="836" fill="none" stroke="#222" stroke-width="1.5"/>
<path d="M100 930.7H122.6M100 797.7H122.6M100 663.7H122.6M100 527.6H122.6M100 388.3H122.6M100 244.5H122.6M100 94.7H122.6M122.6 930.7V953.7M337.6 930.7V953.7M552.6 930.7V953.7M767.7 930.7V953.7M982.7 930.7V953.7M1197.7 930.7V953.7" fill="none" stroke="#222" stroke-width="1.4"/>
<text x="81" y="941.9" text-anchor="end" class="ax">0°</text>
<text x="81" y="808.9" text-anchor="end" class="ax">5°N</text>
<text x="81" y="674.9" text-anchor="end" class="ax">10°N</text>
<text x="81" y="538.8" text-anchor="end" class="ax">15°N</text>
<text x="81" y="399.5" text-anchor="end" class="ax">20°N</text>
<text x="81" y="255.7" text-anchor="end" class="ax">25°N</text>
<text x="81" y="105.9" text-anchor="end" class="ax">30°N</text>
<text x="122.6" y="998.6" text-anchor="middle" class="ax">75°E</text>
<text x="337.6" y="998.6" text-anchor="middle" class="ax">80°E</text>
<text x="552.6" y="998.6" text-anchor="middle" class="ax">85°E</text>
<text x="767.7" y="998.6" text-anchor="middle" class="ax">90°E</text>
<text x="982.7" y="998.6" text-anchor="middle" class="ax">95°E</text>
<text x="1197.7" y="998.6" text-anchor="middle" class="ax">100°E</text>
<rect x="135.4" y="1065.4" width="75" height="73.8" fill="#ffffff" stroke="#000" stroke-opacity=".62" stroke-width="0.8"/>
<rect x="210.4" y="1065.4" width="75" height="73.8" fill="#d6e2ff" stroke="#000" stroke-opacity=".62" stroke-width="0.8"/>
<rect x="285.4" y="1065.4" width="75" height="73.8" fill="#b5c9ff" stroke="#000" stroke-opacity=".62" stroke-width="0.8"/>
<rect x="360.4" y="1065.4" width="75" height="73.8" fill="#7f96ff" stroke="#000" stroke-opacity=".62" stroke-width="0.8"/>
<rect x="435.5" y="1065.4" width="75" height="73.8" fill="#6370f7" stroke="#000" stroke-opacity=".62" stroke-width="0.8"/>
<rect x="510.5" y="1065.4" width="75" height="73.8" fill="#0063ff" stroke="#000" stroke-opacity=".62" stroke-width="0.8"/>
<rect x="585.5" y="1065.4" width="75" height="73.8" fill="#009696" stroke="#000" stroke-opacity=".62" stroke-width="0.8"/>
<rect x="660.5" y="1065.4" width="75" height="73.8" fill="#63ff00" stroke="#000" stroke-opacity=".62" stroke-width="0.8"/>
<rect x="735.5" y="1065.4" width="75" height="73.8" fill="#96ff00" stroke="#000" stroke-opacity=".62" stroke-width="0.8"/>
<rect x="810.5" y="1065.4" width="75" height="73.8" fill="#c6ff33" stroke="#000" stroke-opacity=".62" stroke-width="0.8"/>
<rect x="885.5" y="1065.4" width="75" height="73.8" fill="#ffff00" stroke="#000" stroke-opacity=".62" stroke-width="0.8"/>
<rect x="960.6" y="1065.4" width="75" height="73.8" fill="#ffa000" stroke="#000" stroke-opacity=".62" stroke-width="0.8"/>
<rect x="1035.6" y="1065.4" width="75" height="73.8" fill="#ff7c00" stroke="#000" stroke-opacity=".62" stroke-width="0.8"/>
<rect x="1110.6" y="1065.4" width="75" height="73.8" fill="#ff1900" stroke="#000" stroke-opacity=".62" stroke-width="0.8"/>
<text x="210.4" y="1183.4" text-anchor="middle" class="cb">1</text>
<text x="285.4" y="1183.4" text-anchor="middle" class="cb">5</text>
<text x="360.4" y="1183.4" text-anchor="middle" class="cb">10</text>
<text x="435.5" y="1183.4" text-anchor="middle" class="cb">15</text>
<text x="510.5" y="1183.4" text-anchor="middle" class="cb">20</text>
<text x="585.5" y="1183.4" text-anchor="middle" class="cb">25</text>
<text x="660.5" y="1183.4" text-anchor="middle" class="cb">30</text>
<text x="735.5" y="1183.4" text-anchor="middle" class="cb">40</text>
<text x="810.5" y="1183.4" text-anchor="middle" class="cb">50</text>
<text x="885.5" y="1183.4" text-anchor="middle" class="cb">60</text>
<text x="960.6" y="1183.4" text-anchor="middle" class="cb">70</text>
<text x="1035.6" y="1183.4" text-anchor="middle" class="cb">80</text>
<text x="1110.6" y="1183.4" text-anchor="middle" class="cb">90</text>
</g>
</svg></body></html>
